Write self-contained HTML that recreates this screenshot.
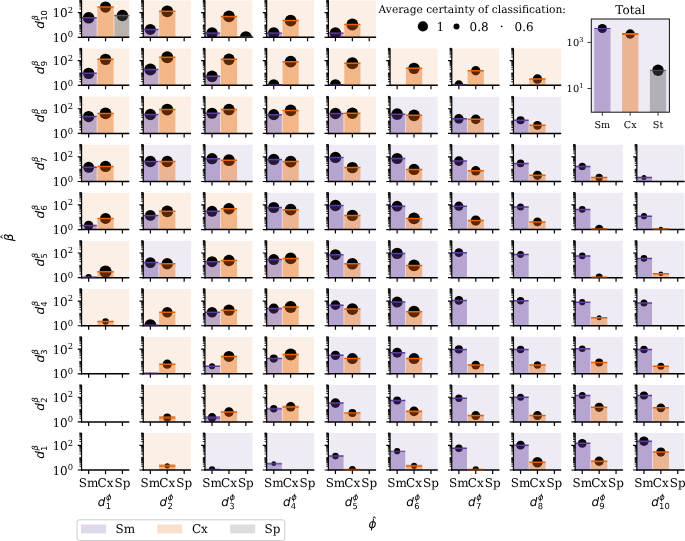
<!DOCTYPE html>
<html><head><meta charset="utf-8"><title>Classification certainty grid</title>
<style>html,body{margin:0;padding:0;background:#fff}svg{display:block}</style></head>
<body>
<svg width="685" height="541" viewBox="0 0 685 541" text-rendering="geometricPrecision">
<rect width="685" height="541" fill="#fff"/>
<defs>
<g id="ax"><path d="M-2.1 -3.71 H0M-2.1 -5.88 H0M-2.1 -7.43 H0M-2.1 -8.62 H0M-2.1 -9.6 H0M-2.1 -10.42 H0M-2.1 -11.14 H0M-2.1 -11.77 H0M-2.1 -16.05 H0M-2.1 -18.22 H0M-2.1 -19.76 H0M-2.1 -20.95 H0M-2.1 -21.93 H0M-2.1 -22.76 H0M-2.1 -23.47 H0M-2.1 -24.1 H0M-2.1 -28.38 H0M-2.1 -30.55 H0M-2.1 -32.09 H0M-2.1 -33.29 H0M-2.1 -34.26 H0M-2.1 -35.09 H0M-2.1 -35.8 H0M-2.1 -36.44 H0M-2.1 -12.33 H0M-2.1 -37 H0" stroke="#000" stroke-width="0.9" fill="none"/>
<path d="M-3.8 0H0M-3.8 -24.67H0M7.1 0V4M24 0V4M40.9 0V4" stroke="#000" stroke-width="1.2" fill="none"/>
<path d="M0 -37 V0.7" stroke="#000" stroke-width="1.2" fill="none"/><path d="M-0.6 0 H47.75" stroke="#000" stroke-width="1.5" fill="none"/></g>
</defs>
<clipPath id="c1_1"><rect x="81.55" y="433" width="47.75" height="37"/></clipPath>
<g clip-path="url(#c1_1)">
</g>
<use href="#ax" x="81.55" y="470"/>
<clipPath id="c1_2"><rect x="81.55" y="384.92" width="47.75" height="37"/></clipPath>
<g clip-path="url(#c1_2)">
</g>
<use href="#ax" x="81.55" y="421.92"/>
<clipPath id="c1_3"><rect x="81.55" y="336.84" width="47.75" height="37"/></clipPath>
<g clip-path="url(#c1_3)">
</g>
<use href="#ax" x="81.55" y="373.84"/>
<clipPath id="c1_4"><rect x="81.55" y="288.76" width="47.75" height="37"/></clipPath>
<g clip-path="url(#c1_4)">
<rect x="81.55" y="288.76" width="47.75" height="37" fill="#e66101" fill-opacity="0.1"/>
<circle cx="105.55" cy="321.56" r="3.3" fill="#000"/>
<rect x="97.45" y="321.56" width="16.2" height="4.2" fill="#e66101" fill-opacity="0.4"/>
<path d="M97.45 321.56H113.65" stroke="#e66101" stroke-width="1.5" stroke-opacity="1"/>
</g>
<use href="#ax" x="81.55" y="325.76"/>
<clipPath id="c1_5"><rect x="81.55" y="240.68" width="47.75" height="37"/></clipPath>
<g clip-path="url(#c1_5)">
<rect x="81.55" y="240.68" width="47.75" height="37" fill="#e66101" fill-opacity="0.1"/>
<circle cx="88.65" cy="277.08" r="3.2" fill="#000"/>
<circle cx="105.55" cy="271.68" r="6.1" fill="#000"/>
<rect x="80.55" y="277.08" width="16.2" height="0.6" fill="#5e3c99" fill-opacity="0.4"/>
<path d="M80.55 277.08H96.75" stroke="#5e3c99" stroke-width="1.3" stroke-opacity="1"/>
<rect x="97.45" y="271.68" width="16.2" height="6" fill="#e66101" fill-opacity="0.4"/>
<path d="M97.45 271.68H113.65" stroke="#e66101" stroke-width="1.5" stroke-opacity="1"/>
</g>
<use href="#ax" x="81.55" y="277.68"/>
<path d="M82.15 277.58H96.75" stroke="#5e3c99" stroke-width="1.3" stroke-opacity="0.5"/>
<clipPath id="c1_6"><rect x="81.55" y="192.6" width="47.75" height="37"/></clipPath>
<g clip-path="url(#c1_6)">
<rect x="81.55" y="192.6" width="47.75" height="37" fill="#e66101" fill-opacity="0.1"/>
<circle cx="88.65" cy="225.4" r="4.7" fill="#000"/>
<circle cx="105.55" cy="218.4" r="5.5" fill="#000"/>
<rect x="80.55" y="225.4" width="16.2" height="4.2" fill="#5e3c99" fill-opacity="0.4"/>
<path d="M80.55 225.4H96.75" stroke="#5e3c99" stroke-width="1.5" stroke-opacity="1"/>
<rect x="97.45" y="218.4" width="16.2" height="11.2" fill="#e66101" fill-opacity="0.4"/>
<path d="M97.45 218.4H113.65" stroke="#e66101" stroke-width="1.5" stroke-opacity="1"/>
</g>
<use href="#ax" x="81.55" y="229.6"/>
<clipPath id="c1_7"><rect x="81.55" y="144.52" width="47.75" height="37"/></clipPath>
<g clip-path="url(#c1_7)">
<rect x="81.55" y="144.52" width="47.75" height="37" fill="#e66101" fill-opacity="0.1"/>
<circle cx="88.65" cy="167.32" r="5.5" fill="#000"/>
<circle cx="105.55" cy="166.42" r="5.7" fill="#000"/>
<rect x="80.55" y="167.32" width="16.2" height="14.2" fill="#5e3c99" fill-opacity="0.4"/>
<path d="M80.55 167.32H96.75" stroke="#5e3c99" stroke-width="1.5" stroke-opacity="1"/>
<rect x="97.45" y="166.42" width="16.2" height="15.1" fill="#e66101" fill-opacity="0.4"/>
<path d="M97.45 166.42H113.65" stroke="#e66101" stroke-width="1.5" stroke-opacity="1"/>
</g>
<use href="#ax" x="81.55" y="181.52"/>
<clipPath id="c1_8"><rect x="81.55" y="96.44" width="47.75" height="37"/></clipPath>
<g clip-path="url(#c1_8)">
<rect x="81.55" y="96.44" width="47.75" height="37" fill="#e66101" fill-opacity="0.1"/>
<circle cx="88.65" cy="116.54" r="5.6" fill="#000"/>
<circle cx="105.55" cy="113.44" r="5.9" fill="#000"/>
<rect x="80.55" y="116.54" width="16.2" height="16.9" fill="#5e3c99" fill-opacity="0.4"/>
<path d="M80.55 116.54H96.75" stroke="#5e3c99" stroke-width="1.5" stroke-opacity="1"/>
<rect x="97.45" y="113.44" width="16.2" height="20" fill="#e66101" fill-opacity="0.4"/>
<path d="M97.45 113.44H113.65" stroke="#e66101" stroke-width="1.5" stroke-opacity="1"/>
</g>
<use href="#ax" x="81.55" y="133.44"/>
<clipPath id="c1_9"><rect x="81.55" y="48.36" width="47.75" height="37"/></clipPath>
<g clip-path="url(#c1_9)">
<rect x="81.55" y="48.36" width="47.75" height="37" fill="#e66101" fill-opacity="0.1"/>
<circle cx="88.65" cy="73.36" r="5.7" fill="#000"/>
<circle cx="105.55" cy="59.36" r="5.7" fill="#000"/>
<rect x="80.55" y="73.36" width="16.2" height="12" fill="#5e3c99" fill-opacity="0.4"/>
<path d="M80.55 73.36H96.75" stroke="#5e3c99" stroke-width="1.5" stroke-opacity="1"/>
<rect x="97.45" y="59.36" width="16.2" height="26" fill="#e66101" fill-opacity="0.4"/>
<path d="M97.45 59.36H113.65" stroke="#e66101" stroke-width="1.5" stroke-opacity="1"/>
</g>
<use href="#ax" x="81.55" y="85.36"/>
<clipPath id="c1_10"><rect x="81.55" y="0.28" width="47.75" height="37"/></clipPath>
<g clip-path="url(#c1_10)">
<rect x="81.55" y="0.28" width="47.75" height="37" fill="#e66101" fill-opacity="0.1"/>
<circle cx="88.65" cy="17.78" r="5.8" fill="#000"/>
<circle cx="105.55" cy="7.08" r="5.6" fill="#000"/>
<circle cx="122.45" cy="15.48" r="5.7" fill="#000"/>
<rect x="80.55" y="17.78" width="16.2" height="19.5" fill="#5e3c99" fill-opacity="0.4"/>
<path d="M80.55 17.78H96.75" stroke="#5e3c99" stroke-width="1.5" stroke-opacity="1"/>
<rect x="97.45" y="7.08" width="16.2" height="30.2" fill="#e66101" fill-opacity="0.4"/>
<path d="M97.45 7.08H113.65" stroke="#e66101" stroke-width="1.5" stroke-opacity="1"/>
<rect x="114.35" y="15.48" width="16.2" height="21.8" fill="#575757" fill-opacity="0.4"/>
<path d="M114.35 15.48H130.55" stroke="#575757" stroke-width="1.5" stroke-opacity="1"/>
</g>
<use href="#ax" x="81.55" y="37.28"/>
<clipPath id="c2_1"><rect x="143.25" y="433" width="47.75" height="37"/></clipPath>
<g clip-path="url(#c2_1)">
<rect x="143.25" y="433" width="47.75" height="37" fill="#e66101" fill-opacity="0.1"/>
<circle cx="167.25" cy="465.8" r="2.6" fill="#000"/>
<rect x="159.15" y="465.8" width="16.2" height="4.2" fill="#e66101" fill-opacity="0.4"/>
<path d="M159.15 465.8H175.35" stroke="#e66101" stroke-width="2.5" stroke-opacity="0.78"/>
</g>
<use href="#ax" x="143.25" y="470"/>
<clipPath id="c2_2"><rect x="143.25" y="384.92" width="47.75" height="37"/></clipPath>
<g clip-path="url(#c2_2)">
<rect x="143.25" y="384.92" width="47.75" height="37" fill="#e66101" fill-opacity="0.1"/>
<circle cx="167.25" cy="417.52" r="4" fill="#000"/>
<rect x="159.15" y="417.52" width="16.2" height="4.4" fill="#e66101" fill-opacity="0.4"/>
<path d="M159.15 417.52H175.35" stroke="#e66101" stroke-width="2.5" stroke-opacity="0.78"/>
</g>
<use href="#ax" x="143.25" y="421.92"/>
<clipPath id="c2_3"><rect x="143.25" y="336.84" width="47.75" height="37"/></clipPath>
<g clip-path="url(#c2_3)">
<rect x="143.25" y="336.84" width="47.75" height="37" fill="#e66101" fill-opacity="0.1"/>
<circle cx="150.35" cy="373.24" r="0.8" fill="#000"/>
<circle cx="167.25" cy="364.14" r="4.6" fill="#000"/>
<rect x="142.25" y="373.24" width="16.2" height="0.6" fill="#5e3c99" fill-opacity="0.4"/>
<path d="M142.25 373.24H158.45" stroke="#5e3c99" stroke-width="1.3" stroke-opacity="1"/>
<rect x="159.15" y="364.14" width="16.2" height="9.7" fill="#e66101" fill-opacity="0.4"/>
<path d="M159.15 364.14H175.35" stroke="#e66101" stroke-width="1.5" stroke-opacity="1"/>
</g>
<use href="#ax" x="143.25" y="373.84"/>
<path d="M143.85 373.74H158.45" stroke="#5e3c99" stroke-width="1.3" stroke-opacity="0.5"/>
<clipPath id="c2_4"><rect x="143.25" y="288.76" width="47.75" height="37"/></clipPath>
<g clip-path="url(#c2_4)">
<rect x="143.25" y="288.76" width="47.75" height="37" fill="#e66101" fill-opacity="0.1"/>
<circle cx="150.35" cy="325.16" r="6" fill="#000"/>
<circle cx="167.25" cy="312.26" r="5.3" fill="#000"/>
<rect x="142.25" y="325.16" width="16.2" height="0.6" fill="#5e3c99" fill-opacity="0.4"/>
<path d="M142.25 325.16H158.45" stroke="#5e3c99" stroke-width="1.3" stroke-opacity="1"/>
<rect x="159.15" y="312.26" width="16.2" height="13.5" fill="#e66101" fill-opacity="0.4"/>
<path d="M159.15 312.26H175.35" stroke="#e66101" stroke-width="1.5" stroke-opacity="1"/>
</g>
<use href="#ax" x="143.25" y="325.76"/>
<path d="M143.85 325.66H158.45" stroke="#5e3c99" stroke-width="1.3" stroke-opacity="0.5"/>
<clipPath id="c2_5"><rect x="143.25" y="240.68" width="47.75" height="37"/></clipPath>
<g clip-path="url(#c2_5)">
<rect x="143.25" y="240.68" width="47.75" height="37" fill="#5e3c99" fill-opacity="0.1"/>
<circle cx="150.35" cy="262.58" r="5.4" fill="#000"/>
<circle cx="167.25" cy="263.78" r="5.7" fill="#000"/>
<rect x="142.25" y="262.58" width="16.2" height="15.1" fill="#5e3c99" fill-opacity="0.4"/>
<path d="M142.25 262.58H158.45" stroke="#5e3c99" stroke-width="1.5" stroke-opacity="1"/>
<rect x="159.15" y="263.78" width="16.2" height="13.9" fill="#e66101" fill-opacity="0.4"/>
<path d="M159.15 263.78H175.35" stroke="#e66101" stroke-width="1.5" stroke-opacity="1"/>
</g>
<use href="#ax" x="143.25" y="277.68"/>
<clipPath id="c2_6"><rect x="143.25" y="192.6" width="47.75" height="37"/></clipPath>
<g clip-path="url(#c2_6)">
<rect x="143.25" y="192.6" width="47.75" height="37" fill="#e66101" fill-opacity="0.1"/>
<circle cx="150.35" cy="215.4" r="5.4" fill="#000"/>
<circle cx="167.25" cy="211.3" r="5.9" fill="#000"/>
<rect x="142.25" y="215.4" width="16.2" height="14.2" fill="#5e3c99" fill-opacity="0.4"/>
<path d="M142.25 215.4H158.45" stroke="#5e3c99" stroke-width="1.5" stroke-opacity="1"/>
<rect x="159.15" y="211.3" width="16.2" height="18.3" fill="#e66101" fill-opacity="0.4"/>
<path d="M159.15 211.3H175.35" stroke="#e66101" stroke-width="1.5" stroke-opacity="1"/>
</g>
<use href="#ax" x="143.25" y="229.6"/>
<clipPath id="c2_7"><rect x="143.25" y="144.52" width="47.75" height="37"/></clipPath>
<g clip-path="url(#c2_7)">
<rect x="143.25" y="144.52" width="47.75" height="37" fill="#5e3c99" fill-opacity="0.1"/>
<circle cx="150.35" cy="161.52" r="5.8" fill="#000"/>
<circle cx="167.25" cy="161.52" r="5.8" fill="#000"/>
<rect x="142.25" y="161.52" width="16.2" height="20" fill="#5e3c99" fill-opacity="0.4"/>
<path d="M142.25 161.52H158.45" stroke="#5e3c99" stroke-width="1.5" stroke-opacity="1"/>
<rect x="159.15" y="161.52" width="16.2" height="20" fill="#e66101" fill-opacity="0.4"/>
<path d="M159.15 161.52H175.35" stroke="#e66101" stroke-width="1.5" stroke-opacity="1"/>
</g>
<use href="#ax" x="143.25" y="181.52"/>
<clipPath id="c2_8"><rect x="143.25" y="96.44" width="47.75" height="37"/></clipPath>
<g clip-path="url(#c2_8)">
<rect x="143.25" y="96.44" width="47.75" height="37" fill="#e66101" fill-opacity="0.1"/>
<circle cx="150.35" cy="114.44" r="5.7" fill="#000"/>
<circle cx="167.25" cy="109.54" r="5.9" fill="#000"/>
<rect x="142.25" y="114.44" width="16.2" height="19" fill="#5e3c99" fill-opacity="0.4"/>
<path d="M142.25 114.44H158.45" stroke="#5e3c99" stroke-width="1.5" stroke-opacity="1"/>
<rect x="159.15" y="109.54" width="16.2" height="23.9" fill="#e66101" fill-opacity="0.4"/>
<path d="M159.15 109.54H175.35" stroke="#e66101" stroke-width="1.5" stroke-opacity="1"/>
</g>
<use href="#ax" x="143.25" y="133.44"/>
<clipPath id="c2_9"><rect x="143.25" y="48.36" width="47.75" height="37"/></clipPath>
<g clip-path="url(#c2_9)">
<rect x="143.25" y="48.36" width="47.75" height="37" fill="#e66101" fill-opacity="0.1"/>
<circle cx="150.35" cy="69.56" r="6" fill="#000"/>
<circle cx="167.25" cy="57.36" r="6" fill="#000"/>
<rect x="142.25" y="69.56" width="16.2" height="15.8" fill="#5e3c99" fill-opacity="0.4"/>
<path d="M142.25 69.56H158.45" stroke="#5e3c99" stroke-width="1.5" stroke-opacity="1"/>
<rect x="159.15" y="57.36" width="16.2" height="28" fill="#e66101" fill-opacity="0.4"/>
<path d="M159.15 57.36H175.35" stroke="#e66101" stroke-width="1.5" stroke-opacity="1"/>
</g>
<use href="#ax" x="143.25" y="85.36"/>
<clipPath id="c2_10"><rect x="143.25" y="0.28" width="47.75" height="37"/></clipPath>
<g clip-path="url(#c2_10)">
<rect x="143.25" y="0.28" width="47.75" height="37" fill="#e66101" fill-opacity="0.1"/>
<circle cx="150.35" cy="29.38" r="5.5" fill="#000"/>
<circle cx="167.25" cy="11.28" r="5.9" fill="#000"/>
<rect x="142.25" y="29.38" width="16.2" height="7.9" fill="#5e3c99" fill-opacity="0.4"/>
<path d="M142.25 29.38H158.45" stroke="#5e3c99" stroke-width="1.5" stroke-opacity="1"/>
<rect x="159.15" y="11.28" width="16.2" height="26" fill="#e66101" fill-opacity="0.4"/>
<path d="M159.15 11.28H175.35" stroke="#e66101" stroke-width="1.5" stroke-opacity="1"/>
</g>
<use href="#ax" x="143.25" y="37.28"/>
<clipPath id="c3_1"><rect x="204.95" y="433" width="47.75" height="37"/></clipPath>
<g clip-path="url(#c3_1)">
<rect x="204.95" y="433" width="47.75" height="37" fill="#5e3c99" fill-opacity="0.1"/>
<circle cx="212.05" cy="469.4" r="3.2" fill="#000"/>
<rect x="203.95" y="469.4" width="16.2" height="0.6" fill="#5e3c99" fill-opacity="0.4"/>
<path d="M203.95 469.4H220.15" stroke="#5e3c99" stroke-width="1.3" stroke-opacity="1"/>
</g>
<use href="#ax" x="204.95" y="470"/>
<path d="M205.55 469.9H220.15" stroke="#5e3c99" stroke-width="1.3" stroke-opacity="0.5"/>
<clipPath id="c3_2"><rect x="204.95" y="384.92" width="47.75" height="37"/></clipPath>
<g clip-path="url(#c3_2)">
<rect x="204.95" y="384.92" width="47.75" height="37" fill="#e66101" fill-opacity="0.1"/>
<circle cx="212.05" cy="417.52" r="4.4" fill="#000"/>
<circle cx="228.95" cy="412.12" r="4.8" fill="#000"/>
<rect x="203.95" y="417.52" width="16.2" height="4.4" fill="#5e3c99" fill-opacity="0.4"/>
<path d="M203.95 417.52H220.15" stroke="#5e3c99" stroke-width="2.5" stroke-opacity="0.78"/>
<rect x="220.85" y="412.12" width="16.2" height="9.8" fill="#e66101" fill-opacity="0.4"/>
<path d="M220.85 412.12H237.05" stroke="#e66101" stroke-width="2" stroke-opacity="0.78"/>
</g>
<use href="#ax" x="204.95" y="421.92"/>
<clipPath id="c3_3"><rect x="204.95" y="336.84" width="47.75" height="37"/></clipPath>
<g clip-path="url(#c3_3)">
<rect x="204.95" y="336.84" width="47.75" height="37" fill="#e66101" fill-opacity="0.1"/>
<circle cx="212.05" cy="366.24" r="3.1" fill="#000"/>
<circle cx="228.95" cy="356.44" r="5.5" fill="#000"/>
<rect x="203.95" y="366.24" width="16.2" height="7.6" fill="#5e3c99" fill-opacity="0.4"/>
<path d="M203.95 366.24H220.15" stroke="#5e3c99" stroke-width="1.5" stroke-opacity="1"/>
<rect x="220.85" y="356.44" width="16.2" height="17.4" fill="#e66101" fill-opacity="0.4"/>
<path d="M220.85 356.44H237.05" stroke="#e66101" stroke-width="1.5" stroke-opacity="1"/>
</g>
<use href="#ax" x="204.95" y="373.84"/>
<clipPath id="c3_4"><rect x="204.95" y="288.76" width="47.75" height="37"/></clipPath>
<g clip-path="url(#c3_4)">
<rect x="204.95" y="288.76" width="47.75" height="37" fill="#e66101" fill-opacity="0.1"/>
<circle cx="212.05" cy="312.26" r="5.3" fill="#000"/>
<circle cx="228.95" cy="310.16" r="5.7" fill="#000"/>
<rect x="203.95" y="312.26" width="16.2" height="13.5" fill="#5e3c99" fill-opacity="0.4"/>
<path d="M203.95 312.26H220.15" stroke="#5e3c99" stroke-width="1.5" stroke-opacity="1"/>
<rect x="220.85" y="310.16" width="16.2" height="15.6" fill="#e66101" fill-opacity="0.4"/>
<path d="M220.85 310.16H237.05" stroke="#e66101" stroke-width="1.5" stroke-opacity="1"/>
</g>
<use href="#ax" x="204.95" y="325.76"/>
<clipPath id="c3_5"><rect x="204.95" y="240.68" width="47.75" height="37"/></clipPath>
<g clip-path="url(#c3_5)">
<rect x="204.95" y="240.68" width="47.75" height="37" fill="#e66101" fill-opacity="0.1"/>
<circle cx="212.05" cy="261.68" r="5.5" fill="#000"/>
<circle cx="228.95" cy="260.48" r="5.7" fill="#000"/>
<rect x="203.95" y="261.68" width="16.2" height="16" fill="#5e3c99" fill-opacity="0.4"/>
<path d="M203.95 261.68H220.15" stroke="#5e3c99" stroke-width="1.5" stroke-opacity="1"/>
<rect x="220.85" y="260.48" width="16.2" height="17.2" fill="#e66101" fill-opacity="0.4"/>
<path d="M220.85 260.48H237.05" stroke="#e66101" stroke-width="1.5" stroke-opacity="1"/>
</g>
<use href="#ax" x="204.95" y="277.68"/>
<clipPath id="c3_6"><rect x="204.95" y="192.6" width="47.75" height="37"/></clipPath>
<g clip-path="url(#c3_6)">
<rect x="204.95" y="192.6" width="47.75" height="37" fill="#e66101" fill-opacity="0.1"/>
<circle cx="212.05" cy="211.3" r="5.5" fill="#000"/>
<circle cx="228.95" cy="208.7" r="5.7" fill="#000"/>
<rect x="203.95" y="211.3" width="16.2" height="18.3" fill="#5e3c99" fill-opacity="0.4"/>
<path d="M203.95 211.3H220.15" stroke="#5e3c99" stroke-width="1.5" stroke-opacity="1"/>
<rect x="220.85" y="208.7" width="16.2" height="20.9" fill="#e66101" fill-opacity="0.4"/>
<path d="M220.85 208.7H237.05" stroke="#e66101" stroke-width="1.5" stroke-opacity="1"/>
</g>
<use href="#ax" x="204.95" y="229.6"/>
<clipPath id="c3_7"><rect x="204.95" y="144.52" width="47.75" height="37"/></clipPath>
<g clip-path="url(#c3_7)">
<rect x="204.95" y="144.52" width="47.75" height="37" fill="#5e3c99" fill-opacity="0.1"/>
<circle cx="212.05" cy="158.72" r="5.6" fill="#000"/>
<circle cx="228.95" cy="160.22" r="5.9" fill="#000"/>
<rect x="203.95" y="158.72" width="16.2" height="22.8" fill="#5e3c99" fill-opacity="0.4"/>
<path d="M203.95 158.72H220.15" stroke="#5e3c99" stroke-width="1.5" stroke-opacity="1"/>
<rect x="220.85" y="160.22" width="16.2" height="21.3" fill="#e66101" fill-opacity="0.4"/>
<path d="M220.85 160.22H237.05" stroke="#e66101" stroke-width="1.5" stroke-opacity="1"/>
</g>
<use href="#ax" x="204.95" y="181.52"/>
<clipPath id="c3_8"><rect x="204.95" y="96.44" width="47.75" height="37"/></clipPath>
<g clip-path="url(#c3_8)">
<rect x="204.95" y="96.44" width="47.75" height="37" fill="#e66101" fill-opacity="0.1"/>
<circle cx="212.05" cy="113.24" r="5.6" fill="#000"/>
<circle cx="228.95" cy="109.54" r="5.8" fill="#000"/>
<rect x="203.95" y="113.24" width="16.2" height="20.2" fill="#5e3c99" fill-opacity="0.4"/>
<path d="M203.95 113.24H220.15" stroke="#5e3c99" stroke-width="1.5" stroke-opacity="1"/>
<rect x="220.85" y="109.54" width="16.2" height="23.9" fill="#e66101" fill-opacity="0.4"/>
<path d="M220.85 109.54H237.05" stroke="#e66101" stroke-width="1.5" stroke-opacity="1"/>
</g>
<use href="#ax" x="204.95" y="133.44"/>
<clipPath id="c3_9"><rect x="204.95" y="48.36" width="47.75" height="37"/></clipPath>
<g clip-path="url(#c3_9)">
<rect x="204.95" y="48.36" width="47.75" height="37" fill="#e66101" fill-opacity="0.1"/>
<circle cx="212.05" cy="76.36" r="5.8" fill="#000"/>
<circle cx="228.95" cy="59.36" r="5.8" fill="#000"/>
<rect x="203.95" y="76.36" width="16.2" height="9" fill="#5e3c99" fill-opacity="0.4"/>
<path d="M203.95 76.36H220.15" stroke="#5e3c99" stroke-width="1.5" stroke-opacity="1"/>
<rect x="220.85" y="59.36" width="16.2" height="26" fill="#e66101" fill-opacity="0.4"/>
<path d="M220.85 59.36H237.05" stroke="#e66101" stroke-width="1.5" stroke-opacity="1"/>
</g>
<use href="#ax" x="204.95" y="85.36"/>
<clipPath id="c3_10"><rect x="204.95" y="0.28" width="47.75" height="37"/></clipPath>
<g clip-path="url(#c3_10)">
<rect x="204.95" y="0.28" width="47.75" height="37" fill="#e66101" fill-opacity="0.1"/>
<circle cx="212.05" cy="33.08" r="5.8" fill="#000"/>
<circle cx="228.95" cy="16.38" r="5.9" fill="#000"/>
<circle cx="245.85" cy="37.28" r="6" fill="#000"/>
<rect x="203.95" y="33.08" width="16.2" height="4.2" fill="#5e3c99" fill-opacity="0.4"/>
<path d="M203.95 33.08H220.15" stroke="#5e3c99" stroke-width="1.8" stroke-opacity="0.78"/>
<rect x="220.85" y="16.38" width="16.2" height="20.9" fill="#e66101" fill-opacity="0.4"/>
<path d="M220.85 16.38H237.05" stroke="#e66101" stroke-width="1.5" stroke-opacity="1"/>
<path d="M237.75 37.28H253.95" stroke="#575757" stroke-width="1.5" stroke-opacity="1"/>
</g>
<use href="#ax" x="204.95" y="37.28"/>
<path d="M237.75 37.18H253.95" stroke="#575757" stroke-width="1.3" stroke-opacity="0.5"/>
<clipPath id="c4_1"><rect x="266.65" y="433" width="47.75" height="37"/></clipPath>
<g clip-path="url(#c4_1)">
<rect x="266.65" y="433" width="47.75" height="37" fill="#5e3c99" fill-opacity="0.1"/>
<circle cx="273.75" cy="463.7" r="2.4" fill="#000"/>
<rect x="265.65" y="463.7" width="16.2" height="6.3" fill="#5e3c99" fill-opacity="0.4"/>
<path d="M265.65 463.7H281.85" stroke="#5e3c99" stroke-width="1.8" stroke-opacity="0.78"/>
</g>
<use href="#ax" x="266.65" y="470"/>
<clipPath id="c4_2"><rect x="266.65" y="384.92" width="47.75" height="37"/></clipPath>
<g clip-path="url(#c4_2)">
<rect x="266.65" y="384.92" width="47.75" height="37" fill="#e66101" fill-opacity="0.1"/>
<circle cx="273.75" cy="408.72" r="3.7" fill="#000"/>
<circle cx="290.65" cy="406.82" r="4.8" fill="#000"/>
<rect x="265.65" y="408.72" width="16.2" height="13.2" fill="#5e3c99" fill-opacity="0.4"/>
<path d="M265.65 408.72H281.85" stroke="#5e3c99" stroke-width="2" stroke-opacity="0.78"/>
<rect x="282.55" y="406.82" width="16.2" height="15.1" fill="#e66101" fill-opacity="0.4"/>
<path d="M282.55 406.82H298.75" stroke="#e66101" stroke-width="2.3" stroke-opacity="0.78"/>
</g>
<use href="#ax" x="266.65" y="421.92"/>
<clipPath id="c4_3"><rect x="266.65" y="336.84" width="47.75" height="37"/></clipPath>
<g clip-path="url(#c4_3)">
<rect x="266.65" y="336.84" width="47.75" height="37" fill="#e66101" fill-opacity="0.1"/>
<circle cx="273.75" cy="358.54" r="4.1" fill="#000"/>
<circle cx="290.65" cy="354.54" r="6" fill="#000"/>
<rect x="265.65" y="358.54" width="16.2" height="15.3" fill="#5e3c99" fill-opacity="0.4"/>
<path d="M265.65 358.54H281.85" stroke="#5e3c99" stroke-width="1.5" stroke-opacity="1"/>
<rect x="282.55" y="354.54" width="16.2" height="19.3" fill="#e66101" fill-opacity="0.4"/>
<path d="M282.55 354.54H298.75" stroke="#e66101" stroke-width="1.5" stroke-opacity="1"/>
</g>
<use href="#ax" x="266.65" y="373.84"/>
<clipPath id="c4_4"><rect x="266.65" y="288.76" width="47.75" height="37"/></clipPath>
<g clip-path="url(#c4_4)">
<rect x="266.65" y="288.76" width="47.75" height="37" fill="#e66101" fill-opacity="0.1"/>
<circle cx="273.75" cy="308.56" r="5.1" fill="#000"/>
<circle cx="290.65" cy="306.96" r="6" fill="#000"/>
<rect x="265.65" y="308.56" width="16.2" height="17.2" fill="#5e3c99" fill-opacity="0.4"/>
<path d="M265.65 308.56H281.85" stroke="#5e3c99" stroke-width="1.5" stroke-opacity="1"/>
<rect x="282.55" y="306.96" width="16.2" height="18.8" fill="#e66101" fill-opacity="0.4"/>
<path d="M282.55 306.96H298.75" stroke="#e66101" stroke-width="1.5" stroke-opacity="1"/>
</g>
<use href="#ax" x="266.65" y="325.76"/>
<clipPath id="c4_5"><rect x="266.65" y="240.68" width="47.75" height="37"/></clipPath>
<g clip-path="url(#c4_5)">
<rect x="266.65" y="240.68" width="47.75" height="37" fill="#e66101" fill-opacity="0.1"/>
<circle cx="273.75" cy="259.58" r="5.5" fill="#000"/>
<circle cx="290.65" cy="258.38" r="5.9" fill="#000"/>
<rect x="265.65" y="259.58" width="16.2" height="18.1" fill="#5e3c99" fill-opacity="0.4"/>
<path d="M265.65 259.58H281.85" stroke="#5e3c99" stroke-width="1.5" stroke-opacity="1"/>
<rect x="282.55" y="258.38" width="16.2" height="19.3" fill="#e66101" fill-opacity="0.4"/>
<path d="M282.55 258.38H298.75" stroke="#e66101" stroke-width="1.5" stroke-opacity="1"/>
</g>
<use href="#ax" x="266.65" y="277.68"/>
<clipPath id="c4_6"><rect x="266.65" y="192.6" width="47.75" height="37"/></clipPath>
<g clip-path="url(#c4_6)">
<rect x="266.65" y="192.6" width="47.75" height="37" fill="#5e3c99" fill-opacity="0.1"/>
<circle cx="273.75" cy="207.5" r="5.6" fill="#000"/>
<circle cx="290.65" cy="209.7" r="5.9" fill="#000"/>
<rect x="265.65" y="207.5" width="16.2" height="22.1" fill="#5e3c99" fill-opacity="0.4"/>
<path d="M265.65 207.5H281.85" stroke="#5e3c99" stroke-width="1.5" stroke-opacity="1"/>
<rect x="282.55" y="209.7" width="16.2" height="19.9" fill="#e66101" fill-opacity="0.4"/>
<path d="M282.55 209.7H298.75" stroke="#e66101" stroke-width="1.5" stroke-opacity="1"/>
</g>
<use href="#ax" x="266.65" y="229.6"/>
<clipPath id="c4_7"><rect x="266.65" y="144.52" width="47.75" height="37"/></clipPath>
<g clip-path="url(#c4_7)">
<rect x="266.65" y="144.52" width="47.75" height="37" fill="#5e3c99" fill-opacity="0.1"/>
<circle cx="273.75" cy="159.42" r="5.7" fill="#000"/>
<circle cx="290.65" cy="161.62" r="5.9" fill="#000"/>
<rect x="265.65" y="159.42" width="16.2" height="22.1" fill="#5e3c99" fill-opacity="0.4"/>
<path d="M265.65 159.42H281.85" stroke="#5e3c99" stroke-width="1.5" stroke-opacity="1"/>
<rect x="282.55" y="161.62" width="16.2" height="19.9" fill="#e66101" fill-opacity="0.4"/>
<path d="M282.55 161.62H298.75" stroke="#e66101" stroke-width="1.5" stroke-opacity="1"/>
</g>
<use href="#ax" x="266.65" y="181.52"/>
<clipPath id="c4_8"><rect x="266.65" y="96.44" width="47.75" height="37"/></clipPath>
<g clip-path="url(#c4_8)">
<rect x="266.65" y="96.44" width="47.75" height="37" fill="#e66101" fill-opacity="0.1"/>
<circle cx="273.75" cy="114.64" r="5.6" fill="#000"/>
<circle cx="290.65" cy="110.44" r="5.9" fill="#000"/>
<rect x="265.65" y="114.64" width="16.2" height="18.8" fill="#5e3c99" fill-opacity="0.4"/>
<path d="M265.65 114.64H281.85" stroke="#5e3c99" stroke-width="1.5" stroke-opacity="1"/>
<rect x="282.55" y="110.44" width="16.2" height="23" fill="#e66101" fill-opacity="0.4"/>
<path d="M282.55 110.44H298.75" stroke="#e66101" stroke-width="1.5" stroke-opacity="1"/>
</g>
<use href="#ax" x="266.65" y="133.44"/>
<clipPath id="c4_9"><rect x="266.65" y="48.36" width="47.75" height="37"/></clipPath>
<g clip-path="url(#c4_9)">
<rect x="266.65" y="48.36" width="47.75" height="37" fill="#e66101" fill-opacity="0.1"/>
<circle cx="273.75" cy="84.76" r="5.5" fill="#000"/>
<circle cx="290.65" cy="61.66" r="5.9" fill="#000"/>
<rect x="265.65" y="84.76" width="16.2" height="0.6" fill="#5e3c99" fill-opacity="0.4"/>
<path d="M265.65 84.76H281.85" stroke="#5e3c99" stroke-width="1.3" stroke-opacity="1"/>
<rect x="282.55" y="61.66" width="16.2" height="23.7" fill="#e66101" fill-opacity="0.4"/>
<path d="M282.55 61.66H298.75" stroke="#e66101" stroke-width="1.5" stroke-opacity="1"/>
</g>
<use href="#ax" x="266.65" y="85.36"/>
<path d="M267.25 85.26H281.85" stroke="#5e3c99" stroke-width="1.3" stroke-opacity="0.5"/>
<clipPath id="c4_10"><rect x="266.65" y="0.28" width="47.75" height="37"/></clipPath>
<g clip-path="url(#c4_10)">
<rect x="266.65" y="0.28" width="47.75" height="37" fill="#e66101" fill-opacity="0.1"/>
<circle cx="273.75" cy="33.08" r="5.8" fill="#000"/>
<circle cx="290.65" cy="20.58" r="5.9" fill="#000"/>
<rect x="265.65" y="33.08" width="16.2" height="4.2" fill="#5e3c99" fill-opacity="0.4"/>
<path d="M265.65 33.08H281.85" stroke="#5e3c99" stroke-width="1.8" stroke-opacity="0.78"/>
<rect x="282.55" y="20.58" width="16.2" height="16.7" fill="#e66101" fill-opacity="0.4"/>
<path d="M282.55 20.58H298.75" stroke="#e66101" stroke-width="1.5" stroke-opacity="1"/>
</g>
<use href="#ax" x="266.65" y="37.28"/>
<clipPath id="c5_1"><rect x="328.35" y="433" width="47.75" height="37"/></clipPath>
<g clip-path="url(#c5_1)">
<rect x="328.35" y="433" width="47.75" height="37" fill="#5e3c99" fill-opacity="0.1"/>
<circle cx="335.45" cy="456.1" r="3.3" fill="#000"/>
<circle cx="352.35" cy="469.4" r="3.5" fill="#000"/>
<rect x="327.35" y="456.1" width="16.2" height="13.9" fill="#5e3c99" fill-opacity="0.4"/>
<path d="M327.35 456.1H343.55" stroke="#5e3c99" stroke-width="1.5" stroke-opacity="1"/>
<rect x="344.25" y="469.4" width="16.2" height="0.6" fill="#e66101" fill-opacity="0.4"/>
<path d="M344.25 469.4H360.45" stroke="#e66101" stroke-width="1.3" stroke-opacity="1"/>
</g>
<use href="#ax" x="328.35" y="470"/>
<path d="M344.25 469.9H360.45" stroke="#e66101" stroke-width="1.3" stroke-opacity="0.5"/>
<clipPath id="c5_2"><rect x="328.35" y="384.92" width="47.75" height="37"/></clipPath>
<g clip-path="url(#c5_2)">
<rect x="328.35" y="384.92" width="47.75" height="37" fill="#5e3c99" fill-opacity="0.1"/>
<circle cx="335.45" cy="403.12" r="4.8" fill="#000"/>
<circle cx="352.35" cy="412.92" r="4" fill="#000"/>
<rect x="327.35" y="403.12" width="16.2" height="18.8" fill="#5e3c99" fill-opacity="0.4"/>
<path d="M327.35 403.12H343.55" stroke="#5e3c99" stroke-width="1.5" stroke-opacity="1"/>
<rect x="344.25" y="412.92" width="16.2" height="9" fill="#e66101" fill-opacity="0.4"/>
<path d="M344.25 412.92H360.45" stroke="#e66101" stroke-width="1.8" stroke-opacity="0.78"/>
</g>
<use href="#ax" x="328.35" y="421.92"/>
<clipPath id="c5_3"><rect x="328.35" y="336.84" width="47.75" height="37"/></clipPath>
<g clip-path="url(#c5_3)">
<rect x="328.35" y="336.84" width="47.75" height="37" fill="#5e3c99" fill-opacity="0.1"/>
<circle cx="335.45" cy="355.34" r="4.7" fill="#000"/>
<circle cx="352.35" cy="358.54" r="5.5" fill="#000"/>
<rect x="327.35" y="355.34" width="16.2" height="18.5" fill="#5e3c99" fill-opacity="0.4"/>
<path d="M327.35 355.34H343.55" stroke="#5e3c99" stroke-width="1.5" stroke-opacity="1"/>
<rect x="344.25" y="358.54" width="16.2" height="15.3" fill="#e66101" fill-opacity="0.4"/>
<path d="M344.25 358.54H360.45" stroke="#e66101" stroke-width="1.5" stroke-opacity="1"/>
</g>
<use href="#ax" x="328.35" y="373.84"/>
<clipPath id="c5_4"><rect x="328.35" y="288.76" width="47.75" height="37"/></clipPath>
<g clip-path="url(#c5_4)">
<rect x="328.35" y="288.76" width="47.75" height="37" fill="#5e3c99" fill-opacity="0.1"/>
<circle cx="335.45" cy="305.16" r="4.9" fill="#000"/>
<circle cx="352.35" cy="309.06" r="5.9" fill="#000"/>
<rect x="327.35" y="305.16" width="16.2" height="20.6" fill="#5e3c99" fill-opacity="0.4"/>
<path d="M327.35 305.16H343.55" stroke="#5e3c99" stroke-width="1.5" stroke-opacity="1"/>
<rect x="344.25" y="309.06" width="16.2" height="16.7" fill="#e66101" fill-opacity="0.4"/>
<path d="M344.25 309.06H360.45" stroke="#e66101" stroke-width="1.5" stroke-opacity="1"/>
</g>
<use href="#ax" x="328.35" y="325.76"/>
<clipPath id="c5_5"><rect x="328.35" y="240.68" width="47.75" height="37"/></clipPath>
<g clip-path="url(#c5_5)">
<rect x="328.35" y="240.68" width="47.75" height="37" fill="#5e3c99" fill-opacity="0.1"/>
<circle cx="335.45" cy="254.68" r="5.5" fill="#000"/>
<circle cx="352.35" cy="263.78" r="5.8" fill="#000"/>
<rect x="327.35" y="254.68" width="16.2" height="23" fill="#5e3c99" fill-opacity="0.4"/>
<path d="M327.35 254.68H343.55" stroke="#5e3c99" stroke-width="1.5" stroke-opacity="1"/>
<rect x="344.25" y="263.78" width="16.2" height="13.9" fill="#e66101" fill-opacity="0.4"/>
<path d="M344.25 263.78H360.45" stroke="#e66101" stroke-width="1.5" stroke-opacity="1"/>
</g>
<use href="#ax" x="328.35" y="277.68"/>
<clipPath id="c5_6"><rect x="328.35" y="192.6" width="47.75" height="37"/></clipPath>
<g clip-path="url(#c5_6)">
<rect x="328.35" y="192.6" width="47.75" height="37" fill="#5e3c99" fill-opacity="0.1"/>
<circle cx="335.45" cy="205.5" r="5.7" fill="#000"/>
<circle cx="352.35" cy="215.4" r="5.7" fill="#000"/>
<rect x="327.35" y="205.5" width="16.2" height="24.1" fill="#5e3c99" fill-opacity="0.4"/>
<path d="M327.35 205.5H343.55" stroke="#5e3c99" stroke-width="1.5" stroke-opacity="1"/>
<rect x="344.25" y="215.4" width="16.2" height="14.2" fill="#e66101" fill-opacity="0.4"/>
<path d="M344.25 215.4H360.45" stroke="#e66101" stroke-width="1.5" stroke-opacity="1"/>
</g>
<use href="#ax" x="328.35" y="229.6"/>
<clipPath id="c5_7"><rect x="328.35" y="144.52" width="47.75" height="37"/></clipPath>
<g clip-path="url(#c5_7)">
<rect x="328.35" y="144.52" width="47.75" height="37" fill="#5e3c99" fill-opacity="0.1"/>
<circle cx="335.45" cy="157.42" r="5.7" fill="#000"/>
<circle cx="352.35" cy="167.62" r="5.7" fill="#000"/>
<rect x="327.35" y="157.42" width="16.2" height="24.1" fill="#5e3c99" fill-opacity="0.4"/>
<path d="M327.35 157.42H343.55" stroke="#5e3c99" stroke-width="1.5" stroke-opacity="1"/>
<rect x="344.25" y="167.62" width="16.2" height="13.9" fill="#e66101" fill-opacity="0.4"/>
<path d="M344.25 167.62H360.45" stroke="#e66101" stroke-width="1.5" stroke-opacity="1"/>
</g>
<use href="#ax" x="328.35" y="181.52"/>
<clipPath id="c5_8"><rect x="328.35" y="96.44" width="47.75" height="37"/></clipPath>
<g clip-path="url(#c5_8)">
<rect x="328.35" y="96.44" width="47.75" height="37" fill="#e66101" fill-opacity="0.1"/>
<circle cx="335.45" cy="113.54" r="5.7" fill="#000"/>
<circle cx="352.35" cy="113.24" r="5.8" fill="#000"/>
<rect x="327.35" y="113.54" width="16.2" height="19.9" fill="#5e3c99" fill-opacity="0.4"/>
<path d="M327.35 113.54H343.55" stroke="#5e3c99" stroke-width="1.5" stroke-opacity="1"/>
<rect x="344.25" y="113.24" width="16.2" height="20.2" fill="#e66101" fill-opacity="0.4"/>
<path d="M344.25 113.24H360.45" stroke="#e66101" stroke-width="1.5" stroke-opacity="1"/>
</g>
<use href="#ax" x="328.35" y="133.44"/>
<clipPath id="c5_9"><rect x="328.35" y="48.36" width="47.75" height="37"/></clipPath>
<g clip-path="url(#c5_9)">
<rect x="328.35" y="48.36" width="47.75" height="37" fill="#e66101" fill-opacity="0.1"/>
<circle cx="335.45" cy="84.76" r="5.5" fill="#000"/>
<circle cx="352.35" cy="63.36" r="6" fill="#000"/>
<rect x="327.35" y="84.76" width="16.2" height="0.6" fill="#5e3c99" fill-opacity="0.4"/>
<path d="M327.35 84.76H343.55" stroke="#5e3c99" stroke-width="1.3" stroke-opacity="1"/>
<rect x="344.25" y="63.36" width="16.2" height="22" fill="#e66101" fill-opacity="0.4"/>
<path d="M344.25 63.36H360.45" stroke="#e66101" stroke-width="1.5" stroke-opacity="1"/>
</g>
<use href="#ax" x="328.35" y="85.36"/>
<path d="M328.95 85.26H343.55" stroke="#5e3c99" stroke-width="1.3" stroke-opacity="0.5"/>
<clipPath id="c5_10"><rect x="328.35" y="0.28" width="47.75" height="37"/></clipPath>
<g clip-path="url(#c5_10)">
<rect x="328.35" y="0.28" width="47.75" height="37" fill="#e66101" fill-opacity="0.1"/>
<circle cx="335.45" cy="33.08" r="5.8" fill="#000"/>
<circle cx="352.35" cy="24.48" r="5.9" fill="#000"/>
<rect x="327.35" y="33.08" width="16.2" height="4.2" fill="#5e3c99" fill-opacity="0.4"/>
<path d="M327.35 33.08H343.55" stroke="#5e3c99" stroke-width="1.8" stroke-opacity="0.78"/>
<rect x="344.25" y="24.48" width="16.2" height="12.8" fill="#e66101" fill-opacity="0.4"/>
<path d="M344.25 24.48H360.45" stroke="#e66101" stroke-width="1.5" stroke-opacity="1"/>
</g>
<use href="#ax" x="328.35" y="37.28"/>
<clipPath id="c6_1"><rect x="390.05" y="433" width="47.75" height="37"/></clipPath>
<g clip-path="url(#c6_1)">
<rect x="390.05" y="433" width="47.75" height="37" fill="#5e3c99" fill-opacity="0.1"/>
<circle cx="397.15" cy="451.2" r="3.1" fill="#000"/>
<circle cx="414.05" cy="465.8" r="3.1" fill="#000"/>
<rect x="389.05" y="451.2" width="16.2" height="18.8" fill="#5e3c99" fill-opacity="0.4"/>
<path d="M389.05 451.2H405.25" stroke="#5e3c99" stroke-width="1.1" stroke-opacity="1"/>
<rect x="405.95" y="465.8" width="16.2" height="4.2" fill="#e66101" fill-opacity="0.4"/>
<path d="M405.95 465.8H422.15" stroke="#e66101" stroke-width="2.3" stroke-opacity="0.78"/>
</g>
<use href="#ax" x="390.05" y="470"/>
<clipPath id="c6_2"><rect x="390.05" y="384.92" width="47.75" height="37"/></clipPath>
<g clip-path="url(#c6_2)">
<rect x="390.05" y="384.92" width="47.75" height="37" fill="#5e3c99" fill-opacity="0.1"/>
<circle cx="397.15" cy="400.62" r="4" fill="#000"/>
<circle cx="414.05" cy="411.42" r="4.8" fill="#000"/>
<rect x="389.05" y="400.62" width="16.2" height="21.3" fill="#5e3c99" fill-opacity="0.4"/>
<path d="M389.05 400.62H405.25" stroke="#5e3c99" stroke-width="1.5" stroke-opacity="1"/>
<rect x="405.95" y="411.42" width="16.2" height="10.5" fill="#e66101" fill-opacity="0.4"/>
<path d="M405.95 411.42H422.15" stroke="#e66101" stroke-width="1.6" stroke-opacity="1"/>
</g>
<use href="#ax" x="390.05" y="421.92"/>
<clipPath id="c6_3"><rect x="390.05" y="336.84" width="47.75" height="37"/></clipPath>
<g clip-path="url(#c6_3)">
<rect x="390.05" y="336.84" width="47.75" height="37" fill="#5e3c99" fill-opacity="0.1"/>
<circle cx="397.15" cy="352.74" r="4.9" fill="#000"/>
<circle cx="414.05" cy="358.54" r="5.5" fill="#000"/>
<rect x="389.05" y="352.74" width="16.2" height="21.1" fill="#5e3c99" fill-opacity="0.4"/>
<path d="M389.05 352.74H405.25" stroke="#5e3c99" stroke-width="1.5" stroke-opacity="1"/>
<rect x="405.95" y="358.54" width="16.2" height="15.3" fill="#e66101" fill-opacity="0.4"/>
<path d="M405.95 358.54H422.15" stroke="#e66101" stroke-width="1.5" stroke-opacity="1"/>
</g>
<use href="#ax" x="390.05" y="373.84"/>
<clipPath id="c6_4"><rect x="390.05" y="288.76" width="47.75" height="37"/></clipPath>
<g clip-path="url(#c6_4)">
<rect x="390.05" y="288.76" width="47.75" height="37" fill="#5e3c99" fill-opacity="0.1"/>
<circle cx="397.15" cy="302.06" r="5.5" fill="#000"/>
<circle cx="414.05" cy="311.66" r="5.9" fill="#000"/>
<rect x="389.05" y="302.06" width="16.2" height="23.7" fill="#5e3c99" fill-opacity="0.4"/>
<path d="M389.05 302.06H405.25" stroke="#5e3c99" stroke-width="1.5" stroke-opacity="1"/>
<rect x="405.95" y="311.66" width="16.2" height="14.1" fill="#e66101" fill-opacity="0.4"/>
<path d="M405.95 311.66H422.15" stroke="#e66101" stroke-width="1.5" stroke-opacity="1"/>
</g>
<use href="#ax" x="390.05" y="325.76"/>
<clipPath id="c6_5"><rect x="390.05" y="240.68" width="47.75" height="37"/></clipPath>
<g clip-path="url(#c6_5)">
<rect x="390.05" y="240.68" width="47.75" height="37" fill="#5e3c99" fill-opacity="0.1"/>
<circle cx="397.15" cy="253.38" r="5.7" fill="#000"/>
<circle cx="414.05" cy="265.38" r="5.9" fill="#000"/>
<rect x="389.05" y="253.38" width="16.2" height="24.3" fill="#5e3c99" fill-opacity="0.4"/>
<path d="M389.05 253.38H405.25" stroke="#5e3c99" stroke-width="1.5" stroke-opacity="1"/>
<rect x="405.95" y="265.38" width="16.2" height="12.3" fill="#e66101" fill-opacity="0.4"/>
<path d="M405.95 265.38H422.15" stroke="#e66101" stroke-width="1.5" stroke-opacity="1"/>
</g>
<use href="#ax" x="390.05" y="277.68"/>
<clipPath id="c6_6"><rect x="390.05" y="192.6" width="47.75" height="37"/></clipPath>
<g clip-path="url(#c6_6)">
<rect x="390.05" y="192.6" width="47.75" height="37" fill="#5e3c99" fill-opacity="0.1"/>
<circle cx="397.15" cy="206.2" r="5.4" fill="#000"/>
<circle cx="414.05" cy="218.4" r="5.9" fill="#000"/>
<rect x="389.05" y="206.2" width="16.2" height="23.4" fill="#5e3c99" fill-opacity="0.4"/>
<path d="M389.05 206.2H405.25" stroke="#5e3c99" stroke-width="1.5" stroke-opacity="1"/>
<rect x="405.95" y="218.4" width="16.2" height="11.2" fill="#e66101" fill-opacity="0.4"/>
<path d="M405.95 218.4H422.15" stroke="#e66101" stroke-width="1.5" stroke-opacity="1"/>
</g>
<use href="#ax" x="390.05" y="229.6"/>
<clipPath id="c6_7"><rect x="390.05" y="144.52" width="47.75" height="37"/></clipPath>
<g clip-path="url(#c6_7)">
<rect x="390.05" y="144.52" width="47.75" height="37" fill="#5e3c99" fill-opacity="0.1"/>
<circle cx="397.15" cy="158.52" r="5.6" fill="#000"/>
<circle cx="414.05" cy="169.42" r="5.6" fill="#000"/>
<rect x="389.05" y="158.52" width="16.2" height="23" fill="#5e3c99" fill-opacity="0.4"/>
<path d="M389.05 158.52H405.25" stroke="#5e3c99" stroke-width="1.5" stroke-opacity="1"/>
<rect x="405.95" y="169.42" width="16.2" height="12.1" fill="#e66101" fill-opacity="0.4"/>
<path d="M405.95 169.42H422.15" stroke="#e66101" stroke-width="1.5" stroke-opacity="1"/>
</g>
<use href="#ax" x="390.05" y="181.52"/>
<clipPath id="c6_8"><rect x="390.05" y="96.44" width="47.75" height="37"/></clipPath>
<g clip-path="url(#c6_8)">
<rect x="390.05" y="96.44" width="47.75" height="37" fill="#5e3c99" fill-opacity="0.1"/>
<circle cx="397.15" cy="114.14" r="5.8" fill="#000"/>
<circle cx="414.05" cy="115.34" r="5.9" fill="#000"/>
<rect x="389.05" y="114.14" width="16.2" height="19.3" fill="#5e3c99" fill-opacity="0.4"/>
<path d="M389.05 114.14H405.25" stroke="#5e3c99" stroke-width="1.5" stroke-opacity="1"/>
<rect x="405.95" y="115.34" width="16.2" height="18.1" fill="#e66101" fill-opacity="0.4"/>
<path d="M405.95 115.34H422.15" stroke="#e66101" stroke-width="1.5" stroke-opacity="1"/>
</g>
<use href="#ax" x="390.05" y="133.44"/>
<clipPath id="c6_9"><rect x="390.05" y="48.36" width="47.75" height="37"/></clipPath>
<g clip-path="url(#c6_9)">
<rect x="390.05" y="48.36" width="47.75" height="37" fill="#e66101" fill-opacity="0.1"/>
<circle cx="414.05" cy="68.36" r="5.7" fill="#000"/>
<rect x="405.95" y="68.36" width="16.2" height="17" fill="#e66101" fill-opacity="0.4"/>
<path d="M405.95 68.36H422.15" stroke="#e66101" stroke-width="1.5" stroke-opacity="1"/>
</g>
<use href="#ax" x="390.05" y="85.36"/>
<clipPath id="c7_1"><rect x="451.75" y="433" width="47.75" height="37"/></clipPath>
<g clip-path="url(#c7_1)">
<rect x="451.75" y="433" width="47.75" height="37" fill="#5e3c99" fill-opacity="0.1"/>
<circle cx="458.85" cy="448.2" r="3.8" fill="#000"/>
<circle cx="475.75" cy="469.4" r="3.2" fill="#000"/>
<rect x="450.75" y="448.2" width="16.2" height="21.8" fill="#5e3c99" fill-opacity="0.4"/>
<path d="M450.75 448.2H466.95" stroke="#5e3c99" stroke-width="1.5" stroke-opacity="1"/>
<rect x="467.65" y="469.4" width="16.2" height="0.6" fill="#e66101" fill-opacity="0.4"/>
<path d="M467.65 469.4H483.85" stroke="#e66101" stroke-width="1.3" stroke-opacity="1"/>
</g>
<use href="#ax" x="451.75" y="470"/>
<path d="M467.65 469.9H483.85" stroke="#e66101" stroke-width="1.3" stroke-opacity="0.5"/>
<clipPath id="c7_2"><rect x="451.75" y="384.92" width="47.75" height="37"/></clipPath>
<g clip-path="url(#c7_2)">
<rect x="451.75" y="384.92" width="47.75" height="37" fill="#5e3c99" fill-opacity="0.1"/>
<circle cx="458.85" cy="398.22" r="3.7" fill="#000"/>
<circle cx="475.75" cy="415.62" r="4.5" fill="#000"/>
<rect x="450.75" y="398.22" width="16.2" height="23.7" fill="#5e3c99" fill-opacity="0.4"/>
<path d="M450.75 398.22H466.95" stroke="#5e3c99" stroke-width="1.5" stroke-opacity="1"/>
<rect x="467.65" y="415.62" width="16.2" height="6.3" fill="#e66101" fill-opacity="0.4"/>
<path d="M467.65 415.62H483.85" stroke="#e66101" stroke-width="1.5" stroke-opacity="1"/>
</g>
<use href="#ax" x="451.75" y="421.92"/>
<clipPath id="c7_3"><rect x="451.75" y="336.84" width="47.75" height="37"/></clipPath>
<g clip-path="url(#c7_3)">
<rect x="451.75" y="336.84" width="47.75" height="37" fill="#5e3c99" fill-opacity="0.1"/>
<circle cx="458.85" cy="349.44" r="4.1" fill="#000"/>
<circle cx="475.75" cy="365.04" r="4.4" fill="#000"/>
<rect x="450.75" y="349.44" width="16.2" height="24.4" fill="#5e3c99" fill-opacity="0.4"/>
<path d="M450.75 349.44H466.95" stroke="#5e3c99" stroke-width="1.5" stroke-opacity="1"/>
<rect x="467.65" y="365.04" width="16.2" height="8.8" fill="#e66101" fill-opacity="0.4"/>
<path d="M467.65 365.04H483.85" stroke="#e66101" stroke-width="1.5" stroke-opacity="1"/>
</g>
<use href="#ax" x="451.75" y="373.84"/>
<clipPath id="c7_4"><rect x="451.75" y="288.76" width="47.75" height="37"/></clipPath>
<g clip-path="url(#c7_4)">
<rect x="451.75" y="288.76" width="47.75" height="37" fill="#5e3c99" fill-opacity="0.1"/>
<circle cx="458.85" cy="300.46" r="4.4" fill="#000"/>
<rect x="450.75" y="300.46" width="16.2" height="25.3" fill="#5e3c99" fill-opacity="0.4"/>
<path d="M450.75 300.46H466.95" stroke="#5e3c99" stroke-width="1.5" stroke-opacity="1"/>
</g>
<use href="#ax" x="451.75" y="325.76"/>
<clipPath id="c7_5"><rect x="451.75" y="240.68" width="47.75" height="37"/></clipPath>
<g clip-path="url(#c7_5)">
<rect x="451.75" y="240.68" width="47.75" height="37" fill="#5e3c99" fill-opacity="0.1"/>
<circle cx="458.85" cy="252.68" r="4.4" fill="#000"/>
<rect x="450.75" y="252.68" width="16.2" height="25" fill="#5e3c99" fill-opacity="0.4"/>
<path d="M450.75 252.68H466.95" stroke="#5e3c99" stroke-width="1.5" stroke-opacity="1"/>
</g>
<use href="#ax" x="451.75" y="277.68"/>
<clipPath id="c7_6"><rect x="451.75" y="192.6" width="47.75" height="37"/></clipPath>
<g clip-path="url(#c7_6)">
<rect x="451.75" y="192.6" width="47.75" height="37" fill="#5e3c99" fill-opacity="0.1"/>
<circle cx="458.85" cy="206.2" r="4.6" fill="#000"/>
<circle cx="475.75" cy="220.6" r="5.1" fill="#000"/>
<rect x="450.75" y="206.2" width="16.2" height="23.4" fill="#5e3c99" fill-opacity="0.4"/>
<path d="M450.75 206.2H466.95" stroke="#5e3c99" stroke-width="1.5" stroke-opacity="1"/>
<rect x="467.65" y="220.6" width="16.2" height="9" fill="#e66101" fill-opacity="0.4"/>
<path d="M467.65 220.6H483.85" stroke="#e66101" stroke-width="1.5" stroke-opacity="1"/>
</g>
<use href="#ax" x="451.75" y="229.6"/>
<clipPath id="c7_7"><rect x="451.75" y="144.52" width="47.75" height="37"/></clipPath>
<g clip-path="url(#c7_7)">
<rect x="451.75" y="144.52" width="47.75" height="37" fill="#5e3c99" fill-opacity="0.1"/>
<circle cx="458.85" cy="161.12" r="4.8" fill="#000"/>
<circle cx="475.75" cy="170.82" r="4.8" fill="#000"/>
<rect x="450.75" y="161.12" width="16.2" height="20.4" fill="#5e3c99" fill-opacity="0.4"/>
<path d="M450.75 161.12H466.95" stroke="#5e3c99" stroke-width="1.5" stroke-opacity="1"/>
<rect x="467.65" y="170.82" width="16.2" height="10.7" fill="#e66101" fill-opacity="0.4"/>
<path d="M467.65 170.82H483.85" stroke="#e66101" stroke-width="1.5" stroke-opacity="1"/>
</g>
<use href="#ax" x="451.75" y="181.52"/>
<clipPath id="c7_8"><rect x="451.75" y="96.44" width="47.75" height="37"/></clipPath>
<g clip-path="url(#c7_8)">
<rect x="451.75" y="96.44" width="47.75" height="37" fill="#5e3c99" fill-opacity="0.1"/>
<circle cx="458.85" cy="118.84" r="4.8" fill="#000"/>
<circle cx="475.75" cy="119.34" r="4.9" fill="#000"/>
<rect x="450.75" y="118.84" width="16.2" height="14.6" fill="#5e3c99" fill-opacity="0.4"/>
<path d="M450.75 118.84H466.95" stroke="#5e3c99" stroke-width="1.5" stroke-opacity="1"/>
<rect x="467.65" y="119.34" width="16.2" height="14.1" fill="#e66101" fill-opacity="0.4"/>
<path d="M467.65 119.34H483.85" stroke="#e66101" stroke-width="1.5" stroke-opacity="1"/>
</g>
<use href="#ax" x="451.75" y="133.44"/>
<clipPath id="c7_9"><rect x="451.75" y="48.36" width="47.75" height="37"/></clipPath>
<g clip-path="url(#c7_9)">
<rect x="451.75" y="48.36" width="47.75" height="37" fill="#e66101" fill-opacity="0.1"/>
<circle cx="458.85" cy="84.76" r="4.4" fill="#000"/>
<circle cx="475.75" cy="70.76" r="4.7" fill="#000"/>
<rect x="450.75" y="84.76" width="16.2" height="0.6" fill="#5e3c99" fill-opacity="0.4"/>
<path d="M450.75 84.76H466.95" stroke="#5e3c99" stroke-width="1.3" stroke-opacity="1"/>
<rect x="467.65" y="70.76" width="16.2" height="14.6" fill="#e66101" fill-opacity="0.4"/>
<path d="M467.65 70.76H483.85" stroke="#e66101" stroke-width="1.5" stroke-opacity="1"/>
</g>
<use href="#ax" x="451.75" y="85.36"/>
<path d="M452.35 85.26H466.95" stroke="#5e3c99" stroke-width="1.3" stroke-opacity="0.5"/>
<clipPath id="c8_1"><rect x="513.45" y="433" width="47.75" height="37"/></clipPath>
<g clip-path="url(#c8_1)">
<rect x="513.45" y="433" width="47.75" height="37" fill="#5e3c99" fill-opacity="0.1"/>
<circle cx="520.55" cy="445.2" r="4.4" fill="#000"/>
<circle cx="537.45" cy="462.3" r="5.2" fill="#000"/>
<rect x="512.45" y="445.2" width="16.2" height="24.8" fill="#5e3c99" fill-opacity="0.4"/>
<path d="M512.45 445.2H528.65" stroke="#5e3c99" stroke-width="1.5" stroke-opacity="1"/>
<rect x="529.35" y="462.3" width="16.2" height="7.7" fill="#e66101" fill-opacity="0.4"/>
<path d="M529.35 462.3H545.55" stroke="#e66101" stroke-width="1.5" stroke-opacity="1"/>
</g>
<use href="#ax" x="513.45" y="470"/>
<clipPath id="c8_2"><rect x="513.45" y="384.92" width="47.75" height="37"/></clipPath>
<g clip-path="url(#c8_2)">
<rect x="513.45" y="384.92" width="47.75" height="37" fill="#5e3c99" fill-opacity="0.1"/>
<circle cx="520.55" cy="397.32" r="3.5" fill="#000"/>
<circle cx="537.45" cy="415.62" r="4.5" fill="#000"/>
<rect x="512.45" y="397.32" width="16.2" height="24.6" fill="#5e3c99" fill-opacity="0.4"/>
<path d="M512.45 397.32H528.65" stroke="#5e3c99" stroke-width="1.5" stroke-opacity="1"/>
<rect x="529.35" y="415.62" width="16.2" height="6.3" fill="#e66101" fill-opacity="0.4"/>
<path d="M529.35 415.62H545.55" stroke="#e66101" stroke-width="1.5" stroke-opacity="1"/>
</g>
<use href="#ax" x="513.45" y="421.92"/>
<clipPath id="c8_3"><rect x="513.45" y="336.84" width="47.75" height="37"/></clipPath>
<g clip-path="url(#c8_3)">
<rect x="513.45" y="336.84" width="47.75" height="37" fill="#5e3c99" fill-opacity="0.1"/>
<circle cx="520.55" cy="349.44" r="3.8" fill="#000"/>
<circle cx="537.45" cy="365.04" r="3.7" fill="#000"/>
<rect x="512.45" y="349.44" width="16.2" height="24.4" fill="#5e3c99" fill-opacity="0.4"/>
<path d="M512.45 349.44H528.65" stroke="#5e3c99" stroke-width="1.5" stroke-opacity="1"/>
<rect x="529.35" y="365.04" width="16.2" height="8.8" fill="#e66101" fill-opacity="0.4"/>
<path d="M529.35 365.04H545.55" stroke="#e66101" stroke-width="1.5" stroke-opacity="1"/>
</g>
<use href="#ax" x="513.45" y="373.84"/>
<clipPath id="c8_4"><rect x="513.45" y="288.76" width="47.75" height="37"/></clipPath>
<g clip-path="url(#c8_4)">
<rect x="513.45" y="288.76" width="47.75" height="37" fill="#5e3c99" fill-opacity="0.1"/>
<circle cx="520.55" cy="300.76" r="3.7" fill="#000"/>
<rect x="512.45" y="300.76" width="16.2" height="25" fill="#5e3c99" fill-opacity="0.4"/>
<path d="M512.45 300.76H528.65" stroke="#5e3c99" stroke-width="1.5" stroke-opacity="1"/>
</g>
<use href="#ax" x="513.45" y="325.76"/>
<clipPath id="c8_5"><rect x="513.45" y="240.68" width="47.75" height="37"/></clipPath>
<g clip-path="url(#c8_5)">
<rect x="513.45" y="240.68" width="47.75" height="37" fill="#5e3c99" fill-opacity="0.1"/>
<circle cx="520.55" cy="254.48" r="3.4" fill="#000"/>
<rect x="512.45" y="254.48" width="16.2" height="23.2" fill="#5e3c99" fill-opacity="0.4"/>
<path d="M512.45 254.48H528.65" stroke="#5e3c99" stroke-width="1.5" stroke-opacity="1"/>
</g>
<use href="#ax" x="513.45" y="277.68"/>
<clipPath id="c8_6"><rect x="513.45" y="192.6" width="47.75" height="37"/></clipPath>
<g clip-path="url(#c8_6)">
<rect x="513.45" y="192.6" width="47.75" height="37" fill="#5e3c99" fill-opacity="0.1"/>
<circle cx="520.55" cy="206.9" r="3.5" fill="#000"/>
<circle cx="537.45" cy="221.9" r="4.4" fill="#000"/>
<rect x="512.45" y="206.9" width="16.2" height="22.7" fill="#5e3c99" fill-opacity="0.4"/>
<path d="M512.45 206.9H528.65" stroke="#5e3c99" stroke-width="1.5" stroke-opacity="1"/>
<rect x="529.35" y="221.9" width="16.2" height="7.7" fill="#e66101" fill-opacity="0.4"/>
<path d="M529.35 221.9H545.55" stroke="#e66101" stroke-width="1.5" stroke-opacity="1"/>
</g>
<use href="#ax" x="513.45" y="229.6"/>
<clipPath id="c8_7"><rect x="513.45" y="144.52" width="47.75" height="37"/></clipPath>
<g clip-path="url(#c8_7)">
<rect x="513.45" y="144.52" width="47.75" height="37" fill="#5e3c99" fill-opacity="0.1"/>
<circle cx="520.55" cy="163.42" r="3.8" fill="#000"/>
<circle cx="537.45" cy="175.32" r="4.6" fill="#000"/>
<rect x="512.45" y="163.42" width="16.2" height="18.1" fill="#5e3c99" fill-opacity="0.4"/>
<path d="M512.45 163.42H528.65" stroke="#5e3c99" stroke-width="1.5" stroke-opacity="1"/>
<rect x="529.35" y="175.32" width="16.2" height="6.2" fill="#e66101" fill-opacity="0.4"/>
<path d="M529.35 175.32H545.55" stroke="#e66101" stroke-width="1.5" stroke-opacity="1"/>
</g>
<use href="#ax" x="513.45" y="181.52"/>
<clipPath id="c8_8"><rect x="513.45" y="96.44" width="47.75" height="37"/></clipPath>
<g clip-path="url(#c8_8)">
<rect x="513.45" y="96.44" width="47.75" height="37" fill="#5e3c99" fill-opacity="0.1"/>
<circle cx="520.55" cy="120.24" r="4.1" fill="#000"/>
<circle cx="537.45" cy="125.34" r="4.4" fill="#000"/>
<rect x="512.45" y="120.24" width="16.2" height="13.2" fill="#5e3c99" fill-opacity="0.4"/>
<path d="M512.45 120.24H528.65" stroke="#5e3c99" stroke-width="1.5" stroke-opacity="1"/>
<rect x="529.35" y="125.34" width="16.2" height="8.1" fill="#e66101" fill-opacity="0.4"/>
<path d="M529.35 125.34H545.55" stroke="#e66101" stroke-width="1.5" stroke-opacity="1"/>
</g>
<use href="#ax" x="513.45" y="133.44"/>
<clipPath id="c8_9"><rect x="513.45" y="48.36" width="47.75" height="37"/></clipPath>
<g clip-path="url(#c8_9)">
<rect x="513.45" y="48.36" width="47.75" height="37" fill="#e66101" fill-opacity="0.1"/>
<circle cx="537.45" cy="79.06" r="4.7" fill="#000"/>
<rect x="529.35" y="79.06" width="16.2" height="6.3" fill="#e66101" fill-opacity="0.4"/>
<path d="M529.35 79.06H545.55" stroke="#e66101" stroke-width="1.5" stroke-opacity="1"/>
</g>
<use href="#ax" x="513.45" y="85.36"/>
<clipPath id="c9_1"><rect x="575.15" y="433" width="47.75" height="37"/></clipPath>
<g clip-path="url(#c9_1)">
<rect x="575.15" y="433" width="47.75" height="37" fill="#5e3c99" fill-opacity="0.1"/>
<circle cx="582.25" cy="443.3" r="4.4" fill="#000"/>
<circle cx="599.15" cy="461.2" r="4.7" fill="#000"/>
<rect x="574.15" y="443.3" width="16.2" height="26.7" fill="#5e3c99" fill-opacity="0.4"/>
<path d="M574.15 443.3H590.35" stroke="#5e3c99" stroke-width="1.5" stroke-opacity="1"/>
<rect x="591.05" y="461.2" width="16.2" height="8.8" fill="#e66101" fill-opacity="0.4"/>
<path d="M591.05 461.2H607.25" stroke="#e66101" stroke-width="1.5" stroke-opacity="1"/>
</g>
<use href="#ax" x="575.15" y="470"/>
<clipPath id="c9_2"><rect x="575.15" y="384.92" width="47.75" height="37"/></clipPath>
<g clip-path="url(#c9_2)">
<rect x="575.15" y="384.92" width="47.75" height="37" fill="#5e3c99" fill-opacity="0.1"/>
<circle cx="582.25" cy="395.52" r="3.5" fill="#000"/>
<circle cx="599.15" cy="407.32" r="4.6" fill="#000"/>
<rect x="574.15" y="395.52" width="16.2" height="26.4" fill="#5e3c99" fill-opacity="0.4"/>
<path d="M574.15 395.52H590.35" stroke="#5e3c99" stroke-width="1.5" stroke-opacity="1"/>
<rect x="591.05" y="407.32" width="16.2" height="14.6" fill="#e66101" fill-opacity="0.4"/>
<path d="M591.05 407.32H607.25" stroke="#e66101" stroke-width="1.5" stroke-opacity="1"/>
</g>
<use href="#ax" x="575.15" y="421.92"/>
<clipPath id="c9_3"><rect x="575.15" y="336.84" width="47.75" height="37"/></clipPath>
<g clip-path="url(#c9_3)">
<rect x="575.15" y="336.84" width="47.75" height="37" fill="#5e3c99" fill-opacity="0.1"/>
<circle cx="582.25" cy="348.74" r="3.3" fill="#000"/>
<circle cx="599.15" cy="362.44" r="4" fill="#000"/>
<rect x="574.15" y="348.74" width="16.2" height="25.1" fill="#5e3c99" fill-opacity="0.4"/>
<path d="M574.15 348.74H590.35" stroke="#5e3c99" stroke-width="1.5" stroke-opacity="1"/>
<rect x="591.05" y="362.44" width="16.2" height="11.4" fill="#e66101" fill-opacity="0.4"/>
<path d="M591.05 362.44H607.25" stroke="#e66101" stroke-width="1.5" stroke-opacity="1"/>
</g>
<use href="#ax" x="575.15" y="373.84"/>
<clipPath id="c9_4"><rect x="575.15" y="288.76" width="47.75" height="37"/></clipPath>
<g clip-path="url(#c9_4)">
<rect x="575.15" y="288.76" width="47.75" height="37" fill="#5e3c99" fill-opacity="0.1"/>
<circle cx="582.25" cy="302.16" r="3.1" fill="#000"/>
<circle cx="599.15" cy="317.86" r="2.5" fill="#000"/>
<rect x="574.15" y="302.16" width="16.2" height="23.6" fill="#5e3c99" fill-opacity="0.4"/>
<path d="M574.15 302.16H590.35" stroke="#5e3c99" stroke-width="1.5" stroke-opacity="1"/>
<rect x="591.05" y="317.86" width="16.2" height="7.9" fill="#e66101" fill-opacity="0.4"/>
<path d="M591.05 317.86H607.25" stroke="#e66101" stroke-width="1.5" stroke-opacity="1"/>
</g>
<use href="#ax" x="575.15" y="325.76"/>
<clipPath id="c9_5"><rect x="575.15" y="240.68" width="47.75" height="37"/></clipPath>
<g clip-path="url(#c9_5)">
<rect x="575.15" y="240.68" width="47.75" height="37" fill="#5e3c99" fill-opacity="0.1"/>
<circle cx="582.25" cy="255.88" r="3.3" fill="#000"/>
<circle cx="599.15" cy="277.08" r="3.5" fill="#000"/>
<rect x="574.15" y="255.88" width="16.2" height="21.8" fill="#5e3c99" fill-opacity="0.4"/>
<path d="M574.15 255.88H590.35" stroke="#5e3c99" stroke-width="1.5" stroke-opacity="1"/>
<rect x="591.05" y="277.08" width="16.2" height="0.6" fill="#e66101" fill-opacity="0.4"/>
<path d="M591.05 277.08H607.25" stroke="#e66101" stroke-width="1.3" stroke-opacity="1"/>
</g>
<use href="#ax" x="575.15" y="277.68"/>
<path d="M591.05 277.58H607.25" stroke="#e66101" stroke-width="1.3" stroke-opacity="0.5"/>
<clipPath id="c9_6"><rect x="575.15" y="192.6" width="47.75" height="37"/></clipPath>
<g clip-path="url(#c9_6)">
<rect x="575.15" y="192.6" width="47.75" height="37" fill="#5e3c99" fill-opacity="0.1"/>
<circle cx="582.25" cy="209.4" r="3.3" fill="#000"/>
<circle cx="599.15" cy="229" r="4.2" fill="#000"/>
<rect x="574.15" y="209.4" width="16.2" height="20.2" fill="#5e3c99" fill-opacity="0.4"/>
<path d="M574.15 209.4H590.35" stroke="#5e3c99" stroke-width="1.5" stroke-opacity="1"/>
<rect x="591.05" y="229" width="16.2" height="0.6" fill="#e66101" fill-opacity="0.4"/>
<path d="M591.05 229H607.25" stroke="#e66101" stroke-width="1.3" stroke-opacity="1"/>
</g>
<use href="#ax" x="575.15" y="229.6"/>
<path d="M591.05 229.5H607.25" stroke="#e66101" stroke-width="1.3" stroke-opacity="0.5"/>
<clipPath id="c9_7"><rect x="575.15" y="144.52" width="47.75" height="37"/></clipPath>
<g clip-path="url(#c9_7)">
<rect x="575.15" y="144.52" width="47.75" height="37" fill="#5e3c99" fill-opacity="0.1"/>
<circle cx="582.25" cy="166.42" r="3.7" fill="#000"/>
<circle cx="599.15" cy="177.52" r="3.7" fill="#000"/>
<rect x="574.15" y="166.42" width="16.2" height="15.1" fill="#5e3c99" fill-opacity="0.4"/>
<path d="M574.15 166.42H590.35" stroke="#5e3c99" stroke-width="1.5" stroke-opacity="1"/>
<rect x="591.05" y="177.52" width="16.2" height="4" fill="#e66101" fill-opacity="0.4"/>
<path d="M591.05 177.52H607.25" stroke="#e66101" stroke-width="1.5" stroke-opacity="1"/>
</g>
<use href="#ax" x="575.15" y="181.52"/>
<clipPath id="c10_1"><rect x="636.85" y="433" width="47.75" height="37"/></clipPath>
<g clip-path="url(#c10_1)">
<rect x="636.85" y="433" width="47.75" height="37" fill="#5e3c99" fill-opacity="0.1"/>
<circle cx="643.95" cy="441.2" r="4.8" fill="#000"/>
<circle cx="660.85" cy="452.1" r="4.6" fill="#000"/>
<rect x="635.85" y="441.2" width="16.2" height="28.8" fill="#5e3c99" fill-opacity="0.4"/>
<path d="M635.85 441.2H652.05" stroke="#5e3c99" stroke-width="1.5" stroke-opacity="1"/>
<rect x="652.75" y="452.1" width="16.2" height="17.9" fill="#e66101" fill-opacity="0.4"/>
<path d="M652.75 452.1H668.95" stroke="#e66101" stroke-width="1.5" stroke-opacity="1"/>
</g>
<use href="#ax" x="636.85" y="470"/>
<clipPath id="c10_2"><rect x="636.85" y="384.92" width="47.75" height="37"/></clipPath>
<g clip-path="url(#c10_2)">
<rect x="636.85" y="384.92" width="47.75" height="37" fill="#5e3c99" fill-opacity="0.1"/>
<circle cx="643.95" cy="395.52" r="4.1" fill="#000"/>
<circle cx="660.85" cy="407.82" r="4.4" fill="#000"/>
<rect x="635.85" y="395.52" width="16.2" height="26.4" fill="#5e3c99" fill-opacity="0.4"/>
<path d="M635.85 395.52H652.05" stroke="#5e3c99" stroke-width="1.5" stroke-opacity="1"/>
<rect x="652.75" y="407.82" width="16.2" height="14.1" fill="#e66101" fill-opacity="0.4"/>
<path d="M652.75 407.82H668.95" stroke="#e66101" stroke-width="1.5" stroke-opacity="1"/>
</g>
<use href="#ax" x="636.85" y="421.92"/>
<clipPath id="c10_3"><rect x="636.85" y="336.84" width="47.75" height="37"/></clipPath>
<g clip-path="url(#c10_3)">
<rect x="636.85" y="336.84" width="47.75" height="37" fill="#5e3c99" fill-opacity="0.1"/>
<circle cx="643.95" cy="349.54" r="3.8" fill="#000"/>
<circle cx="660.85" cy="366.14" r="3.5" fill="#000"/>
<rect x="635.85" y="349.54" width="16.2" height="24.3" fill="#5e3c99" fill-opacity="0.4"/>
<path d="M635.85 349.54H652.05" stroke="#5e3c99" stroke-width="1.5" stroke-opacity="1"/>
<rect x="652.75" y="366.14" width="16.2" height="7.7" fill="#e66101" fill-opacity="0.4"/>
<path d="M652.75 366.14H668.95" stroke="#e66101" stroke-width="1.5" stroke-opacity="1"/>
</g>
<use href="#ax" x="636.85" y="373.84"/>
<clipPath id="c10_4"><rect x="636.85" y="288.76" width="47.75" height="37"/></clipPath>
<g clip-path="url(#c10_4)">
<rect x="636.85" y="288.76" width="47.75" height="37" fill="#5e3c99" fill-opacity="0.1"/>
<circle cx="643.95" cy="303.06" r="3.5" fill="#000"/>
<rect x="635.85" y="303.06" width="16.2" height="22.7" fill="#5e3c99" fill-opacity="0.4"/>
<path d="M635.85 303.06H652.05" stroke="#5e3c99" stroke-width="1.5" stroke-opacity="1"/>
</g>
<use href="#ax" x="636.85" y="325.76"/>
<clipPath id="c10_5"><rect x="636.85" y="240.68" width="47.75" height="37"/></clipPath>
<g clip-path="url(#c10_5)">
<rect x="636.85" y="240.68" width="47.75" height="37" fill="#5e3c99" fill-opacity="0.1"/>
<circle cx="643.95" cy="258.38" r="3.3" fill="#000"/>
<circle cx="660.85" cy="273.78" r="2.4" fill="#000"/>
<rect x="635.85" y="258.38" width="16.2" height="19.3" fill="#5e3c99" fill-opacity="0.4"/>
<path d="M635.85 258.38H652.05" stroke="#5e3c99" stroke-width="1.5" stroke-opacity="1"/>
<rect x="652.75" y="273.78" width="16.2" height="3.9" fill="#e66101" fill-opacity="0.4"/>
<path d="M652.75 273.78H668.95" stroke="#e66101" stroke-width="1.5" stroke-opacity="1"/>
</g>
<use href="#ax" x="636.85" y="277.68"/>
<clipPath id="c10_6"><rect x="636.85" y="192.6" width="47.75" height="37"/></clipPath>
<g clip-path="url(#c10_6)">
<rect x="636.85" y="192.6" width="47.75" height="37" fill="#5e3c99" fill-opacity="0.1"/>
<circle cx="643.95" cy="216.2" r="3.1" fill="#000"/>
<circle cx="660.85" cy="229" r="2.3" fill="#000"/>
<rect x="635.85" y="216.2" width="16.2" height="13.4" fill="#5e3c99" fill-opacity="0.4"/>
<path d="M635.85 216.2H652.05" stroke="#5e3c99" stroke-width="1.5" stroke-opacity="1"/>
<rect x="652.75" y="229" width="16.2" height="0.6" fill="#e66101" fill-opacity="0.4"/>
<path d="M652.75 229H668.95" stroke="#e66101" stroke-width="1.3" stroke-opacity="1"/>
</g>
<use href="#ax" x="636.85" y="229.6"/>
<path d="M652.75 229.5H668.95" stroke="#e66101" stroke-width="1.3" stroke-opacity="0.5"/>
<clipPath id="c10_7"><rect x="636.85" y="144.52" width="47.75" height="37"/></clipPath>
<g clip-path="url(#c10_7)">
<rect x="636.85" y="144.52" width="47.75" height="37" fill="#5e3c99" fill-opacity="0.1"/>
<circle cx="643.95" cy="177.52" r="2.5" fill="#000"/>
<rect x="635.85" y="177.52" width="16.2" height="4" fill="#5e3c99" fill-opacity="0.4"/>
<path d="M635.85 177.52H652.05" stroke="#5e3c99" stroke-width="1.5" stroke-opacity="1"/>
</g>
<use href="#ax" x="636.85" y="181.52"/>
<text x="52.4" y="474.6" font-size="12" font-family="DejaVu Serif, Liberation Serif, serif">10<tspan dy="-4.4" font-size="8.4">0</tspan></text>
<text x="52.4" y="449.93" font-size="12" font-family="DejaVu Serif, Liberation Serif, serif">10<tspan dy="-4.4" font-size="8.4">2</tspan></text>
<g transform="translate(43.5 458.78) rotate(-90)" font-family="DejaVu Sans, Liberation Sans, sans-serif"><text font-size="12" font-style="italic" x="0" y="0">d</text><text font-size="8.4" x="7.9" y="3.1">1</text><text font-size="8.4" font-style="italic" x="8.2" y="-5.6">β</text></g>
<text x="52.4" y="426.52" font-size="12" font-family="DejaVu Serif, Liberation Serif, serif">10<tspan dy="-4.4" font-size="8.4">0</tspan></text>
<text x="52.4" y="401.85" font-size="12" font-family="DejaVu Serif, Liberation Serif, serif">10<tspan dy="-4.4" font-size="8.4">2</tspan></text>
<g transform="translate(43.5 410.7) rotate(-90)" font-family="DejaVu Sans, Liberation Sans, sans-serif"><text font-size="12" font-style="italic" x="0" y="0">d</text><text font-size="8.4" x="7.9" y="3.1">2</text><text font-size="8.4" font-style="italic" x="8.2" y="-5.6">β</text></g>
<text x="52.4" y="378.44" font-size="12" font-family="DejaVu Serif, Liberation Serif, serif">10<tspan dy="-4.4" font-size="8.4">0</tspan></text>
<text x="52.4" y="353.77" font-size="12" font-family="DejaVu Serif, Liberation Serif, serif">10<tspan dy="-4.4" font-size="8.4">2</tspan></text>
<g transform="translate(43.5 362.62) rotate(-90)" font-family="DejaVu Sans, Liberation Sans, sans-serif"><text font-size="12" font-style="italic" x="0" y="0">d</text><text font-size="8.4" x="7.9" y="3.1">3</text><text font-size="8.4" font-style="italic" x="8.2" y="-5.6">β</text></g>
<text x="52.4" y="330.36" font-size="12" font-family="DejaVu Serif, Liberation Serif, serif">10<tspan dy="-4.4" font-size="8.4">0</tspan></text>
<text x="52.4" y="305.69" font-size="12" font-family="DejaVu Serif, Liberation Serif, serif">10<tspan dy="-4.4" font-size="8.4">2</tspan></text>
<g transform="translate(43.5 314.54) rotate(-90)" font-family="DejaVu Sans, Liberation Sans, sans-serif"><text font-size="12" font-style="italic" x="0" y="0">d</text><text font-size="8.4" x="7.9" y="3.1">4</text><text font-size="8.4" font-style="italic" x="8.2" y="-5.6">β</text></g>
<text x="52.4" y="282.28" font-size="12" font-family="DejaVu Serif, Liberation Serif, serif">10<tspan dy="-4.4" font-size="8.4">0</tspan></text>
<text x="52.4" y="257.61" font-size="12" font-family="DejaVu Serif, Liberation Serif, serif">10<tspan dy="-4.4" font-size="8.4">2</tspan></text>
<g transform="translate(43.5 266.46) rotate(-90)" font-family="DejaVu Sans, Liberation Sans, sans-serif"><text font-size="12" font-style="italic" x="0" y="0">d</text><text font-size="8.4" x="7.9" y="3.1">5</text><text font-size="8.4" font-style="italic" x="8.2" y="-5.6">β</text></g>
<text x="52.4" y="234.2" font-size="12" font-family="DejaVu Serif, Liberation Serif, serif">10<tspan dy="-4.4" font-size="8.4">0</tspan></text>
<text x="52.4" y="209.53" font-size="12" font-family="DejaVu Serif, Liberation Serif, serif">10<tspan dy="-4.4" font-size="8.4">2</tspan></text>
<g transform="translate(43.5 218.38) rotate(-90)" font-family="DejaVu Sans, Liberation Sans, sans-serif"><text font-size="12" font-style="italic" x="0" y="0">d</text><text font-size="8.4" x="7.9" y="3.1">6</text><text font-size="8.4" font-style="italic" x="8.2" y="-5.6">β</text></g>
<text x="52.4" y="186.12" font-size="12" font-family="DejaVu Serif, Liberation Serif, serif">10<tspan dy="-4.4" font-size="8.4">0</tspan></text>
<text x="52.4" y="161.45" font-size="12" font-family="DejaVu Serif, Liberation Serif, serif">10<tspan dy="-4.4" font-size="8.4">2</tspan></text>
<g transform="translate(43.5 170.29) rotate(-90)" font-family="DejaVu Sans, Liberation Sans, sans-serif"><text font-size="12" font-style="italic" x="0" y="0">d</text><text font-size="8.4" x="7.9" y="3.1">7</text><text font-size="8.4" font-style="italic" x="8.2" y="-5.6">β</text></g>
<text x="52.4" y="138.04" font-size="12" font-family="DejaVu Serif, Liberation Serif, serif">10<tspan dy="-4.4" font-size="8.4">0</tspan></text>
<text x="52.4" y="113.37" font-size="12" font-family="DejaVu Serif, Liberation Serif, serif">10<tspan dy="-4.4" font-size="8.4">2</tspan></text>
<g transform="translate(43.5 122.21) rotate(-90)" font-family="DejaVu Sans, Liberation Sans, sans-serif"><text font-size="12" font-style="italic" x="0" y="0">d</text><text font-size="8.4" x="7.9" y="3.1">8</text><text font-size="8.4" font-style="italic" x="8.2" y="-5.6">β</text></g>
<text x="52.4" y="89.96" font-size="12" font-family="DejaVu Serif, Liberation Serif, serif">10<tspan dy="-4.4" font-size="8.4">0</tspan></text>
<text x="52.4" y="65.29" font-size="12" font-family="DejaVu Serif, Liberation Serif, serif">10<tspan dy="-4.4" font-size="8.4">2</tspan></text>
<g transform="translate(43.5 74.14) rotate(-90)" font-family="DejaVu Sans, Liberation Sans, sans-serif"><text font-size="12" font-style="italic" x="0" y="0">d</text><text font-size="8.4" x="7.9" y="3.1">9</text><text font-size="8.4" font-style="italic" x="8.2" y="-5.6">β</text></g>
<text x="52.4" y="41.88" font-size="12" font-family="DejaVu Serif, Liberation Serif, serif">10<tspan dy="-4.4" font-size="8.4">0</tspan></text>
<text x="52.4" y="17.21" font-size="12" font-family="DejaVu Serif, Liberation Serif, serif">10<tspan dy="-4.4" font-size="8.4">2</tspan></text>
<g transform="translate(43.5 28.73) rotate(-90)" font-family="DejaVu Sans, Liberation Sans, sans-serif"><text font-size="12" font-style="italic" x="0" y="0">d</text><text font-size="8.4" x="7.9" y="3.1">10</text><text font-size="8.4" font-style="italic" x="8.2" y="-5.6">β</text></g>
<text x="88.65" y="486.9" font-size="12" text-anchor="middle" font-family="DejaVu Serif, Liberation Serif, serif">Sm</text>
<text x="105.55" y="486.9" font-size="12" text-anchor="middle" font-family="DejaVu Serif, Liberation Serif, serif">Cx</text>
<text x="122.45" y="486.9" font-size="12" text-anchor="middle" font-family="DejaVu Serif, Liberation Serif, serif">Sp</text>
<g transform="translate(97.85 505.8)" font-family="DejaVu Sans, Liberation Sans, sans-serif"><text font-size="12" font-style="italic" x="0" y="0">d</text><text font-size="8.4" x="7.9" y="3.1">1</text><text font-size="8.4" font-style="italic" x="8.2" y="-5.6">ϕ</text></g>
<text x="150.35" y="486.9" font-size="12" text-anchor="middle" font-family="DejaVu Serif, Liberation Serif, serif">Sm</text>
<text x="167.25" y="486.9" font-size="12" text-anchor="middle" font-family="DejaVu Serif, Liberation Serif, serif">Cx</text>
<text x="184.15" y="486.9" font-size="12" text-anchor="middle" font-family="DejaVu Serif, Liberation Serif, serif">Sp</text>
<g transform="translate(159.55 505.8)" font-family="DejaVu Sans, Liberation Sans, sans-serif"><text font-size="12" font-style="italic" x="0" y="0">d</text><text font-size="8.4" x="7.9" y="3.1">2</text><text font-size="8.4" font-style="italic" x="8.2" y="-5.6">ϕ</text></g>
<text x="212.05" y="486.9" font-size="12" text-anchor="middle" font-family="DejaVu Serif, Liberation Serif, serif">Sm</text>
<text x="228.95" y="486.9" font-size="12" text-anchor="middle" font-family="DejaVu Serif, Liberation Serif, serif">Cx</text>
<text x="245.85" y="486.9" font-size="12" text-anchor="middle" font-family="DejaVu Serif, Liberation Serif, serif">Sp</text>
<g transform="translate(221.25 505.8)" font-family="DejaVu Sans, Liberation Sans, sans-serif"><text font-size="12" font-style="italic" x="0" y="0">d</text><text font-size="8.4" x="7.9" y="3.1">3</text><text font-size="8.4" font-style="italic" x="8.2" y="-5.6">ϕ</text></g>
<text x="273.75" y="486.9" font-size="12" text-anchor="middle" font-family="DejaVu Serif, Liberation Serif, serif">Sm</text>
<text x="290.65" y="486.9" font-size="12" text-anchor="middle" font-family="DejaVu Serif, Liberation Serif, serif">Cx</text>
<text x="307.55" y="486.9" font-size="12" text-anchor="middle" font-family="DejaVu Serif, Liberation Serif, serif">Sp</text>
<g transform="translate(282.95 505.8)" font-family="DejaVu Sans, Liberation Sans, sans-serif"><text font-size="12" font-style="italic" x="0" y="0">d</text><text font-size="8.4" x="7.9" y="3.1">4</text><text font-size="8.4" font-style="italic" x="8.2" y="-5.6">ϕ</text></g>
<text x="335.45" y="486.9" font-size="12" text-anchor="middle" font-family="DejaVu Serif, Liberation Serif, serif">Sm</text>
<text x="352.35" y="486.9" font-size="12" text-anchor="middle" font-family="DejaVu Serif, Liberation Serif, serif">Cx</text>
<text x="369.25" y="486.9" font-size="12" text-anchor="middle" font-family="DejaVu Serif, Liberation Serif, serif">Sp</text>
<g transform="translate(344.65 505.8)" font-family="DejaVu Sans, Liberation Sans, sans-serif"><text font-size="12" font-style="italic" x="0" y="0">d</text><text font-size="8.4" x="7.9" y="3.1">5</text><text font-size="8.4" font-style="italic" x="8.2" y="-5.6">ϕ</text></g>
<text x="397.15" y="486.9" font-size="12" text-anchor="middle" font-family="DejaVu Serif, Liberation Serif, serif">Sm</text>
<text x="414.05" y="486.9" font-size="12" text-anchor="middle" font-family="DejaVu Serif, Liberation Serif, serif">Cx</text>
<text x="430.95" y="486.9" font-size="12" text-anchor="middle" font-family="DejaVu Serif, Liberation Serif, serif">Sp</text>
<g transform="translate(406.35 505.8)" font-family="DejaVu Sans, Liberation Sans, sans-serif"><text font-size="12" font-style="italic" x="0" y="0">d</text><text font-size="8.4" x="7.9" y="3.1">6</text><text font-size="8.4" font-style="italic" x="8.2" y="-5.6">ϕ</text></g>
<text x="458.85" y="486.9" font-size="12" text-anchor="middle" font-family="DejaVu Serif, Liberation Serif, serif">Sm</text>
<text x="475.75" y="486.9" font-size="12" text-anchor="middle" font-family="DejaVu Serif, Liberation Serif, serif">Cx</text>
<text x="492.65" y="486.9" font-size="12" text-anchor="middle" font-family="DejaVu Serif, Liberation Serif, serif">Sp</text>
<g transform="translate(468.05 505.8)" font-family="DejaVu Sans, Liberation Sans, sans-serif"><text font-size="12" font-style="italic" x="0" y="0">d</text><text font-size="8.4" x="7.9" y="3.1">7</text><text font-size="8.4" font-style="italic" x="8.2" y="-5.6">ϕ</text></g>
<text x="520.55" y="486.9" font-size="12" text-anchor="middle" font-family="DejaVu Serif, Liberation Serif, serif">Sm</text>
<text x="537.45" y="486.9" font-size="12" text-anchor="middle" font-family="DejaVu Serif, Liberation Serif, serif">Cx</text>
<text x="554.35" y="486.9" font-size="12" text-anchor="middle" font-family="DejaVu Serif, Liberation Serif, serif">Sp</text>
<g transform="translate(529.75 505.8)" font-family="DejaVu Sans, Liberation Sans, sans-serif"><text font-size="12" font-style="italic" x="0" y="0">d</text><text font-size="8.4" x="7.9" y="3.1">8</text><text font-size="8.4" font-style="italic" x="8.2" y="-5.6">ϕ</text></g>
<text x="582.25" y="486.9" font-size="12" text-anchor="middle" font-family="DejaVu Serif, Liberation Serif, serif">Sm</text>
<text x="599.15" y="486.9" font-size="12" text-anchor="middle" font-family="DejaVu Serif, Liberation Serif, serif">Cx</text>
<text x="616.05" y="486.9" font-size="12" text-anchor="middle" font-family="DejaVu Serif, Liberation Serif, serif">Sp</text>
<g transform="translate(591.45 505.8)" font-family="DejaVu Sans, Liberation Sans, sans-serif"><text font-size="12" font-style="italic" x="0" y="0">d</text><text font-size="8.4" x="7.9" y="3.1">9</text><text font-size="8.4" font-style="italic" x="8.2" y="-5.6">ϕ</text></g>
<text x="643.95" y="486.9" font-size="12" text-anchor="middle" font-family="DejaVu Serif, Liberation Serif, serif">Sm</text>
<text x="660.85" y="486.9" font-size="12" text-anchor="middle" font-family="DejaVu Serif, Liberation Serif, serif">Cx</text>
<text x="677.75" y="486.9" font-size="12" text-anchor="middle" font-family="DejaVu Serif, Liberation Serif, serif">Sp</text>
<g transform="translate(651.18 505.8)" font-family="DejaVu Sans, Liberation Sans, sans-serif"><text font-size="12" font-style="italic" x="0" y="0">d</text><text font-size="8.4" x="7.9" y="3.1">10</text><text font-size="8.4" font-style="italic" x="8.2" y="-5.6">ϕ</text></g>
<g transform="translate(12.8 241.3) rotate(-90)" font-family="DejaVu Sans, Liberation Sans, sans-serif"><text font-size="12" font-style="italic" x="0" y="0">β</text><text font-size="12" x="1.6" y="-3.3">ˆ</text></g>
<g font-family="DejaVu Sans, Liberation Sans, sans-serif"><text font-size="12" font-style="italic" x="368.6" y="528.4">ϕ</text><text font-size="12" x="371.2" y="526.1">ˆ</text></g>
<text x="378.6" y="13.2" font-size="10.67" font-family="DejaVu Serif, Liberation Serif, serif">Average certainty of classification:</text>
<circle cx="422.9" cy="26.4" r="5.1"/><circle cx="456.5" cy="26.4" r="3"/><circle cx="501.7" cy="26.4" r="0.8"/>
<text x="436.4" y="30.5" font-size="12" font-family="DejaVu Serif, Liberation Serif, serif">1</text><text x="469.6" y="30.5" font-size="12" font-family="DejaVu Serif, Liberation Serif, serif">0.8</text><text x="514.6" y="30.5" font-size="12" font-family="DejaVu Serif, Liberation Serif, serif">0.6</text>
<clipPath id="ct"><rect x="591.3" y="19" width="78.1" height="93.2"/></clipPath>
<g clip-path="url(#ct)"><rect x="591.3" y="19" width="78.1" height="93.2" fill="#5e3c99" fill-opacity="0.1"/>
<circle cx="602.35" cy="28.5" r="4.6"/>
<circle cx="630.2" cy="34" r="4.7"/>
<circle cx="658.05" cy="70.3" r="5.7"/>
<rect x="594.2" y="28.5" width="16.3" height="83.7" fill="#5e3c99" fill-opacity="0.4"/>
<path d="M594.2 28.5H610.5" stroke="#5e3c99" stroke-width="1"/>
<rect x="622.05" y="34" width="16.3" height="78.2" fill="#e66101" fill-opacity="0.4"/>
<path d="M622.05 34H638.35" stroke="#e66101" stroke-width="1.8"/>
<rect x="649.9" y="70.3" width="16.3" height="41.9" fill="#575757" fill-opacity="0.4"/>
<path d="M649.9 70.3H666.2" stroke="#575757" stroke-width="1"/>
</g>
<rect x="591.3" y="19" width="78.1" height="93.2" fill="none" stroke="#111" stroke-width="1"/>
<path d="M591.3 42.4h-3.8M591.3 88.5h-3.8M602.35 112.2v3.6M630.2 112.2v3.6M658.05 112.2v3.6" stroke="#222" stroke-width="0.9" fill="none"/>
<text x="566.6" y="45.9" font-size="9.9" font-family="DejaVu Serif, Liberation Serif, serif">10<tspan dy="-3.6" font-size="6.9">3</tspan></text>
<text x="566.6" y="92" font-size="9.9" font-family="DejaVu Serif, Liberation Serif, serif">10<tspan dy="-3.6" font-size="6.9">1</tspan></text>
<text x="602.35" y="127.5" font-size="9.6" text-anchor="middle" font-family="DejaVu Serif, Liberation Serif, serif">Sm</text>
<text x="630.2" y="127.5" font-size="9.6" text-anchor="middle" font-family="DejaVu Serif, Liberation Serif, serif">Cx</text>
<text x="658.05" y="127.5" font-size="9.6" text-anchor="middle" font-family="DejaVu Serif, Liberation Serif, serif">St</text>
<text x="630.4" y="14.1" font-size="12" text-anchor="middle" font-family="DejaVu Serif, Liberation Serif, serif">Total</text>
<rect x="77" y="519.8" width="207.8" height="20.8" rx="2.5" fill="#fff" stroke="#ccc" stroke-width="1"/>
<rect x="81" y="524.5" width="25.1" height="8.9" fill="#5e3c99" fill-opacity="0.2"/>
<text x="115.5" y="533.3" font-size="12" font-family="DejaVu Serif, Liberation Serif, serif">Sm</text>
<rect x="157.2" y="524.5" width="25.1" height="8.9" fill="#e66101" fill-opacity="0.2"/>
<text x="191.9" y="533.3" font-size="12" font-family="DejaVu Serif, Liberation Serif, serif">Cx</text>
<rect x="230.1" y="524.5" width="25.1" height="8.9" fill="#575757" fill-opacity="0.2"/>
<text x="264.6" y="533.3" font-size="12" font-family="DejaVu Serif, Liberation Serif, serif">Sp</text>
</svg>
</body></html>
